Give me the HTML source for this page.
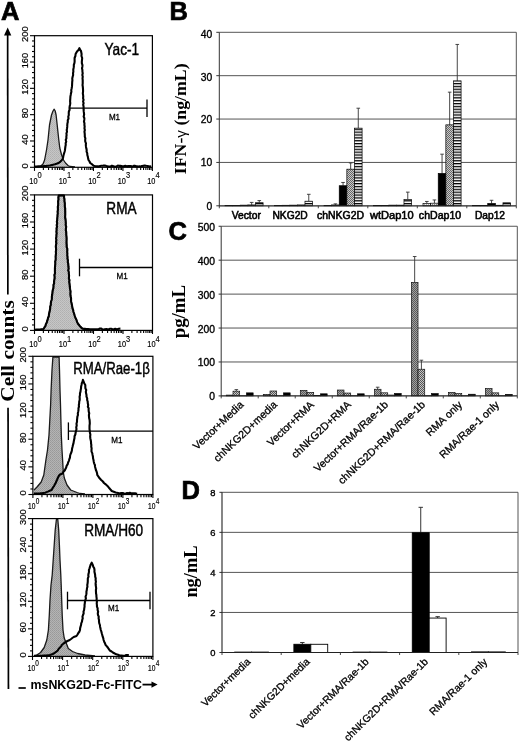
<!DOCTYPE html>
<html><head><meta charset="utf-8"><style>
html,body{margin:0;padding:0;background:#fff;width:520px;height:746px;overflow:hidden;font-family:"Liberation Sans",sans-serif;}
svg{display:block;will-change:transform;}
</style></head><body>
<svg width="520" height="746" viewBox="0 0 520 746">
<rect width="520" height="746" fill="#fff"/>
<defs>
<pattern id="gfill" width="2" height="2" patternUnits="userSpaceOnUse"><rect width="2" height="2" fill="#c6c6c6"/><rect width="1" height="1" fill="#b0b0b0"/><rect x="1" y="1" width="1" height="1" fill="#b6b6b6"/></pattern>
<pattern id="gfill2" width="2" height="2" patternUnits="userSpaceOnUse"><rect width="2" height="2" fill="#b4b4b4"/><rect width="1" height="1" fill="#999"/><rect x="1" y="1" width="1" height="1" fill="#a0a0a0"/></pattern>
<pattern id="chk" width="2" height="2" patternUnits="userSpaceOnUse"><rect width="2" height="2" fill="#cacaca"/><rect width="1" height="1" fill="#666"/><rect x="1" y="1" width="1" height="1" fill="#666"/></pattern>
<pattern id="chkC1" width="2" height="2" patternUnits="userSpaceOnUse"><rect width="2" height="2" fill="#a0a0a0"/><rect width="1" height="1" fill="#5a5a5a"/><rect x="1" y="1" width="1" height="1" fill="#5a5a5a"/></pattern>
<pattern id="chk2" width="2" height="2" patternUnits="userSpaceOnUse"><rect width="2" height="2" fill="#c4c4c4"/><rect width="1" height="1" fill="#555"/><rect x="1" y="1" width="1" height="1" fill="#555"/></pattern>
<pattern id="stripe" width="4" height="2.86" patternUnits="userSpaceOnUse"><rect width="4" height="2.86" fill="#fff"/><rect width="4" height="1.3" fill="#000"/></pattern>
<pattern id="wdot" width="2" height="2" patternUnits="userSpaceOnUse"><rect width="2" height="2" fill="#eee"/><rect width="1" height="1" fill="#aaa"/></pattern>
<pattern id="ldot" width="2" height="2" patternUnits="userSpaceOnUse"><rect width="2" height="2" fill="#ddd"/><rect width="1" height="1" fill="#888"/></pattern>
</defs>
<text x="0.9" y="20" font-family="'Liberation Sans', sans-serif" font-size="25.5" font-weight="bold" text-anchor="start" fill="#000" stroke="#000" stroke-width="0.7">A</text>
<line x1="7.65" y1="34" x2="7.85" y2="294.4" stroke="#000" stroke-width="1.7" />
<line x1="8.05" y1="407.8" x2="8.45" y2="689" stroke="#000" stroke-width="1.7" />
<path d="M7.7 27.6 L4 35.6 L11.3 35.6 Z" fill="#000"/>
<text x="14.1" y="351" font-family="'Liberation Serif', serif" font-size="19.5" font-weight="bold" text-anchor="middle" fill="#000" textLength="101.5" lengthAdjust="spacingAndGlyphs" transform="rotate(-90 14.1 351)" >Cell counts</text>
<path d="M35 167.3 L35 166.8 L40.6 166.3 L43 164 L44.6 160 L46.5 150 L48 140 L49.5 125 L51.5 115 L53 111 L54.2 109.2 L55.2 111 L56.1 115 L57.2 125 L58.8 140 L59.8 148 L61.6 155 L63.5 160 L65.5 163 L68 165.5 L70 166.5 L75 166.9 L75 167.3 Z" fill="url(#gfill)" stroke="none"/>
<path d="M35 166.8 L40.6 166.3 L43 164 L44.6 160 L46.5 150 L48 140 L49.5 125 L51.5 115 L53 111 L54.2 109.2 L55.2 111 L56.1 115 L57.2 125 L58.8 140 L59.8 148 L61.6 155 L63.5 160 L65.5 163 L68 165.5 L70 166.5 L75 166.9" fill="none" stroke="#1a1a1a" stroke-width="1.3" stroke-linejoin="round"/>
<path d="M34.5 166.6 L36.37 166.5 L38.34 166.4 L40 166.3 L42.17 166.2 L44.26 166.1 L46 166 L47.52 165.73 L49.66 165.47 L51 165.2 L53.05 164.75 L55 164.3 L57.17 163.5 L59 162.7 L60.43 161.6 L61.5 160.5 L62.6 159 L63.1 157.5 L63.41 155.67 L63.94 153.83 L64.5 152 L64.95 150.17 L65.16 148.33 L65.4 146.5 L65.75 144.86 L65.65 143.21 L66.23 141.57 L65.74 139.93 L66.41 138.29 L66.34 136.64 L66.6 135 L66.42 133.38 L67.02 131.75 L66.74 130.12 L67.01 128.5 L67.23 126.88 L67.26 125.25 L67.41 123.62 L67.8 122 L67.75 120.25 L68.54 118.5 L68.26 116.75 L68.8 115 L68.74 113.25 L68.85 111.5 L69.61 109.75 L69.5 108 L69.68 106.38 L70.03 104.75 L70.28 103.12 L70.1 101.5 L70.18 99.88 L70.32 98.25 L70.39 96.62 L70.7 95 L70.95 93.38 L71.4 91.75 L71.26 90.12 L71.63 88.5 L71.91 86.88 L72.06 85.25 L72.13 83.62 L72.2 82 L72.41 80.25 L72.27 78.5 L72.64 76.75 L73.15 75 L73.03 73.25 L73.38 71.5 L73.26 69.75 L73.6 68 L73.86 66.4 L73.8 64.8 L74.4 63.2 L74.62 61.6 L74.6 60 L74.6 58 L75.38 56 L75.6 54 L77 51.5 L78.5 50 L79.4 48.1 L80.2 50 L81 51 L81.6 54 L81.45 56 L82.18 58 L82 60 L81.84 61.67 L81.87 63.33 L82.47 65 L82.35 66.67 L81.99 68.33 L82.4 70 L82.43 71.67 L82.73 73.33 L82.32 75 L82.78 76.67 L82.5 78.33 L82.7 80 L82.7 81.67 L82.72 83.33 L82.52 85 L82.8 86.67 L82.94 88.33 L83.05 90 L83.04 91.67 L82.82 93.33 L83.1 95 L83.24 96.62 L83.08 98.25 L83.57 99.88 L83.07 101.5 L83.61 103.12 L83.18 104.75 L83.58 106.38 L83.6 108 L83.58 109.7 L83.73 111.4 L83.97 113.1 L84.13 114.8 L83.65 116.5 L84.35 118.2 L84.27 119.9 L83.96 121.6 L84.46 123.3 L84.4 125 L84.68 126.67 L84.44 128.33 L84.86 130 L84.43 131.67 L84.7 133.33 L84.8 135 L84.79 136.67 L85.36 138.33 L85.16 140 L85.29 141.67 L85.98 143.33 L85.8 145 L85.99 146.67 L86.27 148.33 L86.69 150 L86.58 151.67 L87.27 153.33 L87.3 155 L87.83 156.67 L88.1 158.33 L88.5 160 L89.56 161.5 L90.2 163 L92.21 164.4 L93.7 165.8 L95.07 166 L97 166.2 L98 166.4 L99.11 166.15 L101.27 165.7 L103.13 165.64 L104.76 165.5 L106.49 166.06 L108.58 166.63 L110.43 166.58 L111.79 165.68 L112.86 166.02 L114.2 166.6 L116.28 166.7 L117.88 165.46 L118.99 165.87 L120.42 165.87 L122.46 166.27 L123.9 166.12 L125.88 165.86 L127.09 166.37 L128.45 166.12 L130.61 165.95 L132.37 166.59 L134.13 165.67 L135.95 166.13 L138.06 166.44 L139.38 166.38 L140.85 166.62 L141.91 165.96 L143.3 165.9 L144.47 165.43 L146.23 165.75 L147.65 165.94 L149.76 166.41 L151.18 166.52" fill="none" stroke="#000" stroke-width="2.1" stroke-linejoin="round"/>
<rect x="34.5" y="35.7" width="117.9" height="131.6" fill="none" stroke="#000" stroke-width="1.2"/>
<line x1="30" y1="167.3" x2="34.5" y2="167.3" stroke="#000" stroke-width="1.1" />
<line x1="32" y1="162.04" x2="34.5" y2="162.04" stroke="#000" stroke-width="1.1" />
<line x1="32" y1="156.77" x2="34.5" y2="156.77" stroke="#000" stroke-width="1.1" />
<line x1="32" y1="151.51" x2="34.5" y2="151.51" stroke="#000" stroke-width="1.1" />
<line x1="32" y1="146.24" x2="34.5" y2="146.24" stroke="#000" stroke-width="1.1" />
<line x1="30" y1="140.98" x2="34.5" y2="140.98" stroke="#000" stroke-width="1.1" />
<line x1="32" y1="135.72" x2="34.5" y2="135.72" stroke="#000" stroke-width="1.1" />
<line x1="32" y1="130.45" x2="34.5" y2="130.45" stroke="#000" stroke-width="1.1" />
<line x1="32" y1="125.19" x2="34.5" y2="125.19" stroke="#000" stroke-width="1.1" />
<line x1="32" y1="119.92" x2="34.5" y2="119.92" stroke="#000" stroke-width="1.1" />
<line x1="30" y1="114.66" x2="34.5" y2="114.66" stroke="#000" stroke-width="1.1" />
<line x1="32" y1="109.4" x2="34.5" y2="109.4" stroke="#000" stroke-width="1.1" />
<line x1="32" y1="104.13" x2="34.5" y2="104.13" stroke="#000" stroke-width="1.1" />
<line x1="32" y1="98.87" x2="34.5" y2="98.87" stroke="#000" stroke-width="1.1" />
<line x1="32" y1="93.6" x2="34.5" y2="93.6" stroke="#000" stroke-width="1.1" />
<line x1="30" y1="88.34" x2="34.5" y2="88.34" stroke="#000" stroke-width="1.1" />
<line x1="32" y1="83.08" x2="34.5" y2="83.08" stroke="#000" stroke-width="1.1" />
<line x1="32" y1="77.81" x2="34.5" y2="77.81" stroke="#000" stroke-width="1.1" />
<line x1="32" y1="72.55" x2="34.5" y2="72.55" stroke="#000" stroke-width="1.1" />
<line x1="32" y1="67.28" x2="34.5" y2="67.28" stroke="#000" stroke-width="1.1" />
<line x1="30" y1="62.02" x2="34.5" y2="62.02" stroke="#000" stroke-width="1.1" />
<line x1="32" y1="56.76" x2="34.5" y2="56.76" stroke="#000" stroke-width="1.1" />
<line x1="32" y1="51.49" x2="34.5" y2="51.49" stroke="#000" stroke-width="1.1" />
<line x1="32" y1="46.23" x2="34.5" y2="46.23" stroke="#000" stroke-width="1.1" />
<line x1="32" y1="40.96" x2="34.5" y2="40.96" stroke="#000" stroke-width="1.1" />
<line x1="30" y1="35.7" x2="34.5" y2="35.7" stroke="#000" stroke-width="1.1" />
<text x="27.9" y="165.8" font-family="'Liberation Sans', sans-serif" font-size="9.6" font-weight="normal" text-anchor="middle" fill="#000" textLength="5.2" lengthAdjust="spacingAndGlyphs" transform="rotate(-90 27.9 165.8)" stroke="#000" stroke-width="0.2">0</text>
<text x="27.9" y="139.48" font-family="'Liberation Sans', sans-serif" font-size="9.6" font-weight="normal" text-anchor="middle" fill="#000" textLength="10.4" lengthAdjust="spacingAndGlyphs" transform="rotate(-90 27.9 139.48)" stroke="#000" stroke-width="0.2">40</text>
<text x="27.9" y="113.16" font-family="'Liberation Sans', sans-serif" font-size="9.6" font-weight="normal" text-anchor="middle" fill="#000" textLength="10.4" lengthAdjust="spacingAndGlyphs" transform="rotate(-90 27.9 113.16)" stroke="#000" stroke-width="0.2">80</text>
<text x="27.9" y="86.84" font-family="'Liberation Sans', sans-serif" font-size="9.6" font-weight="normal" text-anchor="middle" fill="#000" textLength="15.6" lengthAdjust="spacingAndGlyphs" transform="rotate(-90 27.9 86.84)" stroke="#000" stroke-width="0.2">120</text>
<text x="27.9" y="60.52" font-family="'Liberation Sans', sans-serif" font-size="9.6" font-weight="normal" text-anchor="middle" fill="#000" textLength="15.6" lengthAdjust="spacingAndGlyphs" transform="rotate(-90 27.9 60.52)" stroke="#000" stroke-width="0.2">160</text>
<text x="27.9" y="34.2" font-family="'Liberation Sans', sans-serif" font-size="9.6" font-weight="normal" text-anchor="middle" fill="#000" textLength="15.6" lengthAdjust="spacingAndGlyphs" transform="rotate(-90 27.9 34.2)" stroke="#000" stroke-width="0.2">200</text>
<line x1="34.5" y1="167.3" x2="34.5" y2="170.9" stroke="#000" stroke-width="1.1" />
<line x1="43.37" y1="167.3" x2="43.37" y2="170" stroke="#000" stroke-width="1.1" />
<line x1="48.56" y1="167.3" x2="48.56" y2="170" stroke="#000" stroke-width="1.1" />
<line x1="52.25" y1="167.3" x2="52.25" y2="170" stroke="#000" stroke-width="1.1" />
<line x1="55.1" y1="167.3" x2="55.1" y2="170" stroke="#000" stroke-width="1.1" />
<line x1="57.44" y1="167.3" x2="57.44" y2="170" stroke="#000" stroke-width="1.1" />
<line x1="59.41" y1="167.3" x2="59.41" y2="170" stroke="#000" stroke-width="1.1" />
<line x1="61.12" y1="167.3" x2="61.12" y2="170" stroke="#000" stroke-width="1.1" />
<line x1="62.63" y1="167.3" x2="62.63" y2="170" stroke="#000" stroke-width="1.1" />
<line x1="63.98" y1="167.3" x2="63.98" y2="170.9" stroke="#000" stroke-width="1.1" />
<line x1="72.85" y1="167.3" x2="72.85" y2="170" stroke="#000" stroke-width="1.1" />
<line x1="78.04" y1="167.3" x2="78.04" y2="170" stroke="#000" stroke-width="1.1" />
<line x1="81.72" y1="167.3" x2="81.72" y2="170" stroke="#000" stroke-width="1.1" />
<line x1="84.58" y1="167.3" x2="84.58" y2="170" stroke="#000" stroke-width="1.1" />
<line x1="86.91" y1="167.3" x2="86.91" y2="170" stroke="#000" stroke-width="1.1" />
<line x1="88.88" y1="167.3" x2="88.88" y2="170" stroke="#000" stroke-width="1.1" />
<line x1="90.59" y1="167.3" x2="90.59" y2="170" stroke="#000" stroke-width="1.1" />
<line x1="92.1" y1="167.3" x2="92.1" y2="170" stroke="#000" stroke-width="1.1" />
<line x1="93.45" y1="167.3" x2="93.45" y2="170.9" stroke="#000" stroke-width="1.1" />
<line x1="102.32" y1="167.3" x2="102.32" y2="170" stroke="#000" stroke-width="1.1" />
<line x1="107.51" y1="167.3" x2="107.51" y2="170" stroke="#000" stroke-width="1.1" />
<line x1="111.2" y1="167.3" x2="111.2" y2="170" stroke="#000" stroke-width="1.1" />
<line x1="114.05" y1="167.3" x2="114.05" y2="170" stroke="#000" stroke-width="1.1" />
<line x1="116.39" y1="167.3" x2="116.39" y2="170" stroke="#000" stroke-width="1.1" />
<line x1="118.36" y1="167.3" x2="118.36" y2="170" stroke="#000" stroke-width="1.1" />
<line x1="120.07" y1="167.3" x2="120.07" y2="170" stroke="#000" stroke-width="1.1" />
<line x1="121.58" y1="167.3" x2="121.58" y2="170" stroke="#000" stroke-width="1.1" />
<line x1="122.93" y1="167.3" x2="122.93" y2="170.9" stroke="#000" stroke-width="1.1" />
<line x1="131.8" y1="167.3" x2="131.8" y2="170" stroke="#000" stroke-width="1.1" />
<line x1="136.99" y1="167.3" x2="136.99" y2="170" stroke="#000" stroke-width="1.1" />
<line x1="140.67" y1="167.3" x2="140.67" y2="170" stroke="#000" stroke-width="1.1" />
<line x1="143.53" y1="167.3" x2="143.53" y2="170" stroke="#000" stroke-width="1.1" />
<line x1="145.86" y1="167.3" x2="145.86" y2="170" stroke="#000" stroke-width="1.1" />
<line x1="147.83" y1="167.3" x2="147.83" y2="170" stroke="#000" stroke-width="1.1" />
<line x1="149.54" y1="167.3" x2="149.54" y2="170" stroke="#000" stroke-width="1.1" />
<line x1="151.05" y1="167.3" x2="151.05" y2="170" stroke="#000" stroke-width="1.1" />
<line x1="152.4" y1="167.3" x2="152.4" y2="170.9" stroke="#000" stroke-width="1.1" />
<text x="37.5" y="183.8" font-family="'Liberation Sans', sans-serif" font-size="9.8" font-weight="normal" text-anchor="end" fill="#000" textLength="8.2" lengthAdjust="spacingAndGlyphs" stroke="#000" stroke-width="0.2">10</text>
<text x="37.5" y="178.4" font-family="'Liberation Sans', sans-serif" font-size="9" font-weight="normal" text-anchor="start" fill="#000" textLength="4.2" lengthAdjust="spacingAndGlyphs" stroke="#000" stroke-width="0.15">0</text>
<text x="66.97" y="183.8" font-family="'Liberation Sans', sans-serif" font-size="9.8" font-weight="normal" text-anchor="end" fill="#000" textLength="8.2" lengthAdjust="spacingAndGlyphs" stroke="#000" stroke-width="0.2">10</text>
<text x="66.97" y="178.4" font-family="'Liberation Sans', sans-serif" font-size="9" font-weight="normal" text-anchor="start" fill="#000" textLength="4.2" lengthAdjust="spacingAndGlyphs" stroke="#000" stroke-width="0.15">1</text>
<text x="96.45" y="183.8" font-family="'Liberation Sans', sans-serif" font-size="9.8" font-weight="normal" text-anchor="end" fill="#000" textLength="8.2" lengthAdjust="spacingAndGlyphs" stroke="#000" stroke-width="0.2">10</text>
<text x="96.45" y="178.4" font-family="'Liberation Sans', sans-serif" font-size="9" font-weight="normal" text-anchor="start" fill="#000" textLength="4.2" lengthAdjust="spacingAndGlyphs" stroke="#000" stroke-width="0.15">2</text>
<text x="125.93" y="183.8" font-family="'Liberation Sans', sans-serif" font-size="9.8" font-weight="normal" text-anchor="end" fill="#000" textLength="8.2" lengthAdjust="spacingAndGlyphs" stroke="#000" stroke-width="0.2">10</text>
<text x="125.93" y="178.4" font-family="'Liberation Sans', sans-serif" font-size="9" font-weight="normal" text-anchor="start" fill="#000" textLength="4.2" lengthAdjust="spacingAndGlyphs" stroke="#000" stroke-width="0.15">3</text>
<text x="155.4" y="183.8" font-family="'Liberation Sans', sans-serif" font-size="9.8" font-weight="normal" text-anchor="end" fill="#000" textLength="8.2" lengthAdjust="spacingAndGlyphs" stroke="#000" stroke-width="0.2">10</text>
<text x="155.4" y="178.4" font-family="'Liberation Sans', sans-serif" font-size="9" font-weight="normal" text-anchor="start" fill="#000" textLength="4.2" lengthAdjust="spacingAndGlyphs" stroke="#000" stroke-width="0.15">4</text>
<text x="104.5" y="55.3" font-family="'Liberation Sans', sans-serif" font-size="16.5" font-weight="normal" text-anchor="start" fill="#000" textLength="34.7" lengthAdjust="spacingAndGlyphs" stroke="#000" stroke-width="0.45">Yac-1</text>
<line x1="69.5" y1="108.2" x2="147" y2="108.2" stroke="#000" stroke-width="1.3" />
<line x1="147" y1="99.4" x2="147" y2="117" stroke="#000" stroke-width="1.3" />
<text x="108.9" y="119.8" font-family="'Liberation Sans', sans-serif" font-size="9.8" font-weight="normal" text-anchor="start" fill="#000" textLength="11.2" lengthAdjust="spacingAndGlyphs" stroke="#000" stroke-width="0.3">M1</text>
<path d="M35 330.4 L35 329.8 L40 329.6 L43.5 329.1 L45.5 325.8 L48.9 315 L51.6 300 L54.3 280 L55.8 255 L56.4 235 L57.2 220 L58.2 205 L58.7 195.5 L64 195.5 L64.8 205 L65.6 220 L66.3 235 L67.2 252 L69 277 L71.5 303 L73.5 312 L75.5 318 L78 323.8 L80.5 326.8 L83 328.8 L90 329.7 L90 330.4 Z" fill="url(#gfill)" stroke="none"/>
<path d="M35 329.8 L40 329.6 L43.5 329.1 L45.5 325.8 L48.9 315 L51.6 300 L54.3 280 L55.8 255 L56.4 235 L57.2 220 L58.2 205 L58.7 195.5 L64 195.5 L64.8 205 L65.6 220 L66.3 235 L67.2 252 L69 277 L71.5 303 L73.5 312 L75.5 318 L78 323.8 L80.5 326.8 L83 328.8 L90 329.7" fill="none" stroke="#1a1a1a" stroke-width="1.3" stroke-linejoin="round"/>
<path d="M34.5 329.7 L36.55 329.63 L37.86 329.57 L40 329.5 L41.51 329.3 L43.5 329.1 L44.42 327.45 L45.5 325.8 L45.81 324.26 L46.7 322.71 L47.12 321.17 L47.72 319.63 L47.96 318.09 L48.76 316.54 L48.9 315 L49.11 313.33 L49.6 311.67 L49.89 310 L50.23 308.33 L50.14 306.67 L50.79 305 L50.8 303.33 L51.02 301.67 L51.6 300 L51.87 298.33 L51.8 296.67 L52.17 295 L52.34 293.33 L52.44 291.67 L52.75 290 L53.36 288.33 L53.55 286.67 L53.39 285 L54.15 283.33 L54.05 281.67 L54.3 280 L54.7 278.33 L54.64 276.67 L54.31 275 L55.04 273.33 L54.91 271.67 L54.92 270 L54.92 268.33 L55.04 266.67 L55.19 265 L55.34 263.33 L55.16 261.67 L55.65 260 L55.72 258.33 L55.56 256.67 L55.8 255 L56 253.33 L55.8 251.67 L56.13 250 L56.04 248.33 L55.8 246.67 L55.98 245 L56.43 243.33 L56.05 241.67 L56.45 240 L56.04 238.33 L56.44 236.67 L56.4 235 L56.72 233.33 L56.34 231.67 L56.59 230 L56.47 228.33 L57.05 226.67 L56.65 225 L57.2 223.33 L56.83 221.67 L57.2 220 L57.24 218.33 L57.48 216.67 L57.48 215 L57.78 213.33 L57.52 211.67 L57.91 210 L57.88 208.33 L57.79 206.67 L58.2 205 L58.18 203.1 L58.08 201.2 L58.5 199.3 L58.26 197.4 L58.7 195.5 L60.37 195.5 L61.96 195.5 L64 195.5 L64.1 197.4 L64.52 199.3 L64.45 201.2 L64.83 203.1 L64.8 205 L64.82 206.67 L65.2 208.33 L65.2 210 L65.27 211.67 L65.25 213.33 L65.27 215 L65.09 216.67 L65.21 218.33 L65.6 220 L65.7 221.67 L65.82 223.33 L65.64 225 L66.2 226.67 L65.97 228.33 L65.76 230 L66.2 231.67 L66.29 233.33 L66.3 235 L66.54 236.7 L66.65 238.4 L66.57 240.1 L66.46 241.8 L66.47 243.5 L66.64 245.2 L66.6 246.9 L67.33 248.6 L67.36 250.3 L67.2 252 L67.42 253.67 L67.24 255.33 L67.54 257 L67.38 258.67 L67.96 260.33 L67.73 262 L68.25 263.67 L68.39 265.33 L68.52 267 L68.74 268.67 L68.18 270.33 L68.81 272 L68.8 273.67 L69.06 275.33 L69 277 L68.87 278.62 L69.56 280.25 L69.15 281.88 L69.42 283.5 L69.65 285.12 L69.77 286.75 L70 288.38 L70.29 290 L70.64 291.62 L70.32 293.25 L70.38 294.88 L70.61 296.5 L71.06 298.12 L71.05 299.75 L71.1 301.38 L71.5 303 L71.88 304.8 L72.23 306.6 L72.46 308.4 L73.21 310.2 L73.5 312 L74.24 314 L74.75 316 L75.5 318 L76.55 319.93 L77 321.87 L78 323.8 L79.29 325.3 L80.5 326.8 L81.43 327.8 L83 328.8 L84.78 328.9 L86.64 329 L88.17 329.1 L90 329.2 L91.65 329.24 L93.25 329.28 L95.2 329.32 L97.15 329.36 L98.6 329.4 L99.6 328.56 L101.34 328.58 L102.82 329.78 L104.56 329.36 L106.62 328.98 L108.61 329.64 L109.72 328.75 L111.01 328.69 L112.04 329.05 L113.11 329.72 L115.2 328.83 L117.09 329.5 L118.78 328.68 L120.41 328.63" fill="none" stroke="#000" stroke-width="2.1" stroke-linejoin="round"/>
<rect x="34.5" y="194.9" width="118" height="135.5" fill="none" stroke="#000" stroke-width="1.2"/>
<line x1="30" y1="330.4" x2="34.5" y2="330.4" stroke="#000" stroke-width="1.1" />
<line x1="32" y1="324.98" x2="34.5" y2="324.98" stroke="#000" stroke-width="1.1" />
<line x1="32" y1="319.56" x2="34.5" y2="319.56" stroke="#000" stroke-width="1.1" />
<line x1="32" y1="314.14" x2="34.5" y2="314.14" stroke="#000" stroke-width="1.1" />
<line x1="32" y1="308.72" x2="34.5" y2="308.72" stroke="#000" stroke-width="1.1" />
<line x1="30" y1="303.3" x2="34.5" y2="303.3" stroke="#000" stroke-width="1.1" />
<line x1="32" y1="297.88" x2="34.5" y2="297.88" stroke="#000" stroke-width="1.1" />
<line x1="32" y1="292.46" x2="34.5" y2="292.46" stroke="#000" stroke-width="1.1" />
<line x1="32" y1="287.04" x2="34.5" y2="287.04" stroke="#000" stroke-width="1.1" />
<line x1="32" y1="281.62" x2="34.5" y2="281.62" stroke="#000" stroke-width="1.1" />
<line x1="30" y1="276.2" x2="34.5" y2="276.2" stroke="#000" stroke-width="1.1" />
<line x1="32" y1="270.78" x2="34.5" y2="270.78" stroke="#000" stroke-width="1.1" />
<line x1="32" y1="265.36" x2="34.5" y2="265.36" stroke="#000" stroke-width="1.1" />
<line x1="32" y1="259.94" x2="34.5" y2="259.94" stroke="#000" stroke-width="1.1" />
<line x1="32" y1="254.52" x2="34.5" y2="254.52" stroke="#000" stroke-width="1.1" />
<line x1="30" y1="249.1" x2="34.5" y2="249.1" stroke="#000" stroke-width="1.1" />
<line x1="32" y1="243.68" x2="34.5" y2="243.68" stroke="#000" stroke-width="1.1" />
<line x1="32" y1="238.26" x2="34.5" y2="238.26" stroke="#000" stroke-width="1.1" />
<line x1="32" y1="232.84" x2="34.5" y2="232.84" stroke="#000" stroke-width="1.1" />
<line x1="32" y1="227.42" x2="34.5" y2="227.42" stroke="#000" stroke-width="1.1" />
<line x1="30" y1="222" x2="34.5" y2="222" stroke="#000" stroke-width="1.1" />
<line x1="32" y1="216.58" x2="34.5" y2="216.58" stroke="#000" stroke-width="1.1" />
<line x1="32" y1="211.16" x2="34.5" y2="211.16" stroke="#000" stroke-width="1.1" />
<line x1="32" y1="205.74" x2="34.5" y2="205.74" stroke="#000" stroke-width="1.1" />
<line x1="32" y1="200.32" x2="34.5" y2="200.32" stroke="#000" stroke-width="1.1" />
<line x1="30" y1="194.9" x2="34.5" y2="194.9" stroke="#000" stroke-width="1.1" />
<text x="27.9" y="328.9" font-family="'Liberation Sans', sans-serif" font-size="9.6" font-weight="normal" text-anchor="middle" fill="#000" textLength="5.2" lengthAdjust="spacingAndGlyphs" transform="rotate(-90 27.9 328.9)" stroke="#000" stroke-width="0.2">0</text>
<text x="27.9" y="301.8" font-family="'Liberation Sans', sans-serif" font-size="9.6" font-weight="normal" text-anchor="middle" fill="#000" textLength="10.4" lengthAdjust="spacingAndGlyphs" transform="rotate(-90 27.9 301.8)" stroke="#000" stroke-width="0.2">40</text>
<text x="27.9" y="274.7" font-family="'Liberation Sans', sans-serif" font-size="9.6" font-weight="normal" text-anchor="middle" fill="#000" textLength="10.4" lengthAdjust="spacingAndGlyphs" transform="rotate(-90 27.9 274.7)" stroke="#000" stroke-width="0.2">80</text>
<text x="27.9" y="247.6" font-family="'Liberation Sans', sans-serif" font-size="9.6" font-weight="normal" text-anchor="middle" fill="#000" textLength="15.6" lengthAdjust="spacingAndGlyphs" transform="rotate(-90 27.9 247.6)" stroke="#000" stroke-width="0.2">120</text>
<text x="27.9" y="220.5" font-family="'Liberation Sans', sans-serif" font-size="9.6" font-weight="normal" text-anchor="middle" fill="#000" textLength="15.6" lengthAdjust="spacingAndGlyphs" transform="rotate(-90 27.9 220.5)" stroke="#000" stroke-width="0.2">160</text>
<text x="27.9" y="193.4" font-family="'Liberation Sans', sans-serif" font-size="9.6" font-weight="normal" text-anchor="middle" fill="#000" textLength="15.6" lengthAdjust="spacingAndGlyphs" transform="rotate(-90 27.9 193.4)" stroke="#000" stroke-width="0.2">200</text>
<line x1="34.5" y1="330.4" x2="34.5" y2="334" stroke="#000" stroke-width="1.1" />
<line x1="43.38" y1="330.4" x2="43.38" y2="333.1" stroke="#000" stroke-width="1.1" />
<line x1="48.58" y1="330.4" x2="48.58" y2="333.1" stroke="#000" stroke-width="1.1" />
<line x1="52.26" y1="330.4" x2="52.26" y2="333.1" stroke="#000" stroke-width="1.1" />
<line x1="55.12" y1="330.4" x2="55.12" y2="333.1" stroke="#000" stroke-width="1.1" />
<line x1="57.46" y1="330.4" x2="57.46" y2="333.1" stroke="#000" stroke-width="1.1" />
<line x1="59.43" y1="330.4" x2="59.43" y2="333.1" stroke="#000" stroke-width="1.1" />
<line x1="61.14" y1="330.4" x2="61.14" y2="333.1" stroke="#000" stroke-width="1.1" />
<line x1="62.65" y1="330.4" x2="62.65" y2="333.1" stroke="#000" stroke-width="1.1" />
<line x1="64" y1="330.4" x2="64" y2="334" stroke="#000" stroke-width="1.1" />
<line x1="72.88" y1="330.4" x2="72.88" y2="333.1" stroke="#000" stroke-width="1.1" />
<line x1="78.08" y1="330.4" x2="78.08" y2="333.1" stroke="#000" stroke-width="1.1" />
<line x1="81.76" y1="330.4" x2="81.76" y2="333.1" stroke="#000" stroke-width="1.1" />
<line x1="84.62" y1="330.4" x2="84.62" y2="333.1" stroke="#000" stroke-width="1.1" />
<line x1="86.96" y1="330.4" x2="86.96" y2="333.1" stroke="#000" stroke-width="1.1" />
<line x1="88.93" y1="330.4" x2="88.93" y2="333.1" stroke="#000" stroke-width="1.1" />
<line x1="90.64" y1="330.4" x2="90.64" y2="333.1" stroke="#000" stroke-width="1.1" />
<line x1="92.15" y1="330.4" x2="92.15" y2="333.1" stroke="#000" stroke-width="1.1" />
<line x1="93.5" y1="330.4" x2="93.5" y2="334" stroke="#000" stroke-width="1.1" />
<line x1="102.38" y1="330.4" x2="102.38" y2="333.1" stroke="#000" stroke-width="1.1" />
<line x1="107.58" y1="330.4" x2="107.58" y2="333.1" stroke="#000" stroke-width="1.1" />
<line x1="111.26" y1="330.4" x2="111.26" y2="333.1" stroke="#000" stroke-width="1.1" />
<line x1="114.12" y1="330.4" x2="114.12" y2="333.1" stroke="#000" stroke-width="1.1" />
<line x1="116.46" y1="330.4" x2="116.46" y2="333.1" stroke="#000" stroke-width="1.1" />
<line x1="118.43" y1="330.4" x2="118.43" y2="333.1" stroke="#000" stroke-width="1.1" />
<line x1="120.14" y1="330.4" x2="120.14" y2="333.1" stroke="#000" stroke-width="1.1" />
<line x1="121.65" y1="330.4" x2="121.65" y2="333.1" stroke="#000" stroke-width="1.1" />
<line x1="123" y1="330.4" x2="123" y2="334" stroke="#000" stroke-width="1.1" />
<line x1="131.88" y1="330.4" x2="131.88" y2="333.1" stroke="#000" stroke-width="1.1" />
<line x1="137.08" y1="330.4" x2="137.08" y2="333.1" stroke="#000" stroke-width="1.1" />
<line x1="140.76" y1="330.4" x2="140.76" y2="333.1" stroke="#000" stroke-width="1.1" />
<line x1="143.62" y1="330.4" x2="143.62" y2="333.1" stroke="#000" stroke-width="1.1" />
<line x1="145.96" y1="330.4" x2="145.96" y2="333.1" stroke="#000" stroke-width="1.1" />
<line x1="147.93" y1="330.4" x2="147.93" y2="333.1" stroke="#000" stroke-width="1.1" />
<line x1="149.64" y1="330.4" x2="149.64" y2="333.1" stroke="#000" stroke-width="1.1" />
<line x1="151.15" y1="330.4" x2="151.15" y2="333.1" stroke="#000" stroke-width="1.1" />
<line x1="152.5" y1="330.4" x2="152.5" y2="334" stroke="#000" stroke-width="1.1" />
<text x="37.5" y="346.9" font-family="'Liberation Sans', sans-serif" font-size="9.8" font-weight="normal" text-anchor="end" fill="#000" textLength="8.2" lengthAdjust="spacingAndGlyphs" stroke="#000" stroke-width="0.2">10</text>
<text x="37.5" y="341.5" font-family="'Liberation Sans', sans-serif" font-size="9" font-weight="normal" text-anchor="start" fill="#000" textLength="4.2" lengthAdjust="spacingAndGlyphs" stroke="#000" stroke-width="0.15">0</text>
<text x="67" y="346.9" font-family="'Liberation Sans', sans-serif" font-size="9.8" font-weight="normal" text-anchor="end" fill="#000" textLength="8.2" lengthAdjust="spacingAndGlyphs" stroke="#000" stroke-width="0.2">10</text>
<text x="67" y="341.5" font-family="'Liberation Sans', sans-serif" font-size="9" font-weight="normal" text-anchor="start" fill="#000" textLength="4.2" lengthAdjust="spacingAndGlyphs" stroke="#000" stroke-width="0.15">1</text>
<text x="96.5" y="346.9" font-family="'Liberation Sans', sans-serif" font-size="9.8" font-weight="normal" text-anchor="end" fill="#000" textLength="8.2" lengthAdjust="spacingAndGlyphs" stroke="#000" stroke-width="0.2">10</text>
<text x="96.5" y="341.5" font-family="'Liberation Sans', sans-serif" font-size="9" font-weight="normal" text-anchor="start" fill="#000" textLength="4.2" lengthAdjust="spacingAndGlyphs" stroke="#000" stroke-width="0.15">2</text>
<text x="126" y="346.9" font-family="'Liberation Sans', sans-serif" font-size="9.8" font-weight="normal" text-anchor="end" fill="#000" textLength="8.2" lengthAdjust="spacingAndGlyphs" stroke="#000" stroke-width="0.2">10</text>
<text x="126" y="341.5" font-family="'Liberation Sans', sans-serif" font-size="9" font-weight="normal" text-anchor="start" fill="#000" textLength="4.2" lengthAdjust="spacingAndGlyphs" stroke="#000" stroke-width="0.15">3</text>
<text x="155.5" y="346.9" font-family="'Liberation Sans', sans-serif" font-size="9.8" font-weight="normal" text-anchor="end" fill="#000" textLength="8.2" lengthAdjust="spacingAndGlyphs" stroke="#000" stroke-width="0.2">10</text>
<text x="155.5" y="341.5" font-family="'Liberation Sans', sans-serif" font-size="9" font-weight="normal" text-anchor="start" fill="#000" textLength="4.2" lengthAdjust="spacingAndGlyphs" stroke="#000" stroke-width="0.15">4</text>
<text x="106.3" y="214" font-family="'Liberation Sans', sans-serif" font-size="16.5" font-weight="normal" text-anchor="start" fill="#000" textLength="30.3" lengthAdjust="spacingAndGlyphs" stroke="#000" stroke-width="0.45">RMA</text>
<line x1="79.5" y1="267.5" x2="152.5" y2="267.5" stroke="#000" stroke-width="1.3" />
<line x1="79.5" y1="258.7" x2="79.5" y2="276.3" stroke="#000" stroke-width="1.3" />
<text x="116.5" y="279.1" font-family="'Liberation Sans', sans-serif" font-size="9.8" font-weight="normal" text-anchor="start" fill="#000" textLength="11.2" lengthAdjust="spacingAndGlyphs" stroke="#000" stroke-width="0.3">M1</text>
<path d="M33.4 494.5 L34 490 L37 487 L41.2 482 L43.8 475 L45.9 460 L47.5 450 L49 435 L49.8 420 L50.6 405 L51.1 390 L52 370 L52.9 357 L59.1 357 L59.5 370 L60 390 L60.5 405 L60.9 420 L61.3 435 L62 450 L62.6 460 L63.3 472 L64.3 478 L67 485 L70.7 490 L77 492.5 L80 493.5 L85 494 L85 494.5 Z" fill="url(#gfill2)" stroke="none"/>
<path d="M34 490 L37 487 L41.2 482 L43.8 475 L45.9 460 L47.5 450 L49 435 L49.8 420 L50.6 405 L51.1 390 L52 370 L52.9 357 L59.1 357 L59.5 370 L60 390 L60.5 405 L60.9 420 L61.3 435 L62 450 L62.6 460 L63.3 472 L64.3 478 L67 485 L70.7 490 L77 492.5 L80 493.5 L85 494" fill="none" stroke="#1a1a1a" stroke-width="1.3" stroke-linejoin="round"/>
<path d="M34 493.6 L36.1 493.53 L37.98 493.47 L40 493.4 L41.49 493.2 L43.29 493 L45 492.8 L46.61 492.1 L48.34 491.4 L49.73 490.7 L51.6 490 L52.31 488.6 L53.19 487.2 L54.19 485.8 L54.81 484.4 L55.7 483 L56.37 481.25 L57.18 479.5 L57.88 477.75 L58.8 476 L60 474.5 L62.5 473.5 L63.26 472 L64.7 470.5 L65.42 469 L66.2 467.5 L66.6 465.83 L67.69 464.17 L68.09 462.5 L68.89 460.83 L69.34 459.17 L70 457.5 L70.07 455.75 L70.6 454 L71.39 452.25 L71.89 450.5 L72.05 448.75 L72.5 447 L72.89 445.2 L73.46 443.4 L73.74 441.6 L74.1 439.8 L74.5 438 L74.54 436.25 L75.34 434.5 L75.6 432.75 L76 431 L76.49 429.17 L76.24 427.33 L76.72 425.5 L76.47 423.67 L77 421.83 L77 420 L77.22 418.33 L77.38 416.67 L77.97 415 L77.81 413.33 L78.2 411.67 L78.5 410 L78.47 408.33 L78.96 406.67 L78.84 405 L79.15 403.33 L79.21 401.67 L79.7 400 L79.71 398.33 L79.58 396.67 L80 395 L79.97 393.33 L80.49 391.67 L80.68 390 L81.01 388.33 L81.09 386.67 L81.5 385 L81.8 383.27 L82.61 381.53 L82.9 379.8 L83.62 381.53 L84.22 383.27 L85.3 385 L85.3 386.67 L85.42 388.33 L86.22 390 L85.83 391.67 L86.07 393.33 L86.5 395 L86.49 396.67 L87.2 398.33 L87.15 400 L87.72 401.67 L87.78 403.33 L88.2 405 L87.85 406.67 L88.67 408.33 L88.6 410 L88.74 411.67 L89.26 413.33 L88.89 415 L89.01 416.67 L89.17 418.33 L89.6 420 L89.72 421.83 L89.79 423.67 L89.53 425.5 L89.51 427.33 L89.51 429.17 L89.8 431 L89.92 432.8 L90.36 434.6 L90.16 436.4 L90.3 438.2 L90.7 440 L91.02 441.67 L91.05 443.33 L91.34 445 L91.25 446.67 L91.62 448.33 L91.5 450 L91.54 451.67 L92.32 453.33 L92.58 455 L92.96 456.67 L93.05 458.33 L93.5 460 L93.76 461.67 L94.13 463.33 L94.9 465 L95.02 466.67 L95.47 468.33 L95.9 470 L96.62 471.67 L97.08 473.33 L97.3 475 L98.47 476.67 L99.62 478.33 L101.2 480 L102.87 481.5 L104 483 L105.7 484.33 L107.2 485.67 L108.4 487 L109.38 488.33 L110.65 489.67 L111.7 491 L113.76 491.75 L115.6 492.5 L118.07 492.95 L120 493.4 L121 493.09 L122.83 493.07 L124.89 493.88 L127.06 493.06 L128.39 493.54 L129.86 492.78 L131.1 493.38 L132.58 493.2 L134.13 493.38 L135.68 493.42 L137.13 493.7" fill="none" stroke="#000" stroke-width="2.1" stroke-linejoin="round"/>
<rect x="32.9" y="356.3" width="120" height="138.2" fill="none" stroke="#000" stroke-width="1.2"/>
<line x1="28.4" y1="494.5" x2="32.9" y2="494.5" stroke="#000" stroke-width="1.1" />
<line x1="30.4" y1="488.97" x2="32.9" y2="488.97" stroke="#000" stroke-width="1.1" />
<line x1="30.4" y1="483.44" x2="32.9" y2="483.44" stroke="#000" stroke-width="1.1" />
<line x1="30.4" y1="477.92" x2="32.9" y2="477.92" stroke="#000" stroke-width="1.1" />
<line x1="30.4" y1="472.39" x2="32.9" y2="472.39" stroke="#000" stroke-width="1.1" />
<line x1="28.4" y1="466.86" x2="32.9" y2="466.86" stroke="#000" stroke-width="1.1" />
<line x1="30.4" y1="461.33" x2="32.9" y2="461.33" stroke="#000" stroke-width="1.1" />
<line x1="30.4" y1="455.8" x2="32.9" y2="455.8" stroke="#000" stroke-width="1.1" />
<line x1="30.4" y1="450.28" x2="32.9" y2="450.28" stroke="#000" stroke-width="1.1" />
<line x1="30.4" y1="444.75" x2="32.9" y2="444.75" stroke="#000" stroke-width="1.1" />
<line x1="28.4" y1="439.22" x2="32.9" y2="439.22" stroke="#000" stroke-width="1.1" />
<line x1="30.4" y1="433.69" x2="32.9" y2="433.69" stroke="#000" stroke-width="1.1" />
<line x1="30.4" y1="428.16" x2="32.9" y2="428.16" stroke="#000" stroke-width="1.1" />
<line x1="30.4" y1="422.64" x2="32.9" y2="422.64" stroke="#000" stroke-width="1.1" />
<line x1="30.4" y1="417.11" x2="32.9" y2="417.11" stroke="#000" stroke-width="1.1" />
<line x1="28.4" y1="411.58" x2="32.9" y2="411.58" stroke="#000" stroke-width="1.1" />
<line x1="30.4" y1="406.05" x2="32.9" y2="406.05" stroke="#000" stroke-width="1.1" />
<line x1="30.4" y1="400.52" x2="32.9" y2="400.52" stroke="#000" stroke-width="1.1" />
<line x1="30.4" y1="395" x2="32.9" y2="395" stroke="#000" stroke-width="1.1" />
<line x1="30.4" y1="389.47" x2="32.9" y2="389.47" stroke="#000" stroke-width="1.1" />
<line x1="28.4" y1="383.94" x2="32.9" y2="383.94" stroke="#000" stroke-width="1.1" />
<line x1="30.4" y1="378.41" x2="32.9" y2="378.41" stroke="#000" stroke-width="1.1" />
<line x1="30.4" y1="372.88" x2="32.9" y2="372.88" stroke="#000" stroke-width="1.1" />
<line x1="30.4" y1="367.36" x2="32.9" y2="367.36" stroke="#000" stroke-width="1.1" />
<line x1="30.4" y1="361.83" x2="32.9" y2="361.83" stroke="#000" stroke-width="1.1" />
<line x1="28.4" y1="356.3" x2="32.9" y2="356.3" stroke="#000" stroke-width="1.1" />
<text x="26.3" y="493" font-family="'Liberation Sans', sans-serif" font-size="9.6" font-weight="normal" text-anchor="middle" fill="#000" textLength="5.2" lengthAdjust="spacingAndGlyphs" transform="rotate(-90 26.3 493)" stroke="#000" stroke-width="0.2">0</text>
<text x="26.3" y="465.36" font-family="'Liberation Sans', sans-serif" font-size="9.6" font-weight="normal" text-anchor="middle" fill="#000" textLength="10.4" lengthAdjust="spacingAndGlyphs" transform="rotate(-90 26.3 465.36)" stroke="#000" stroke-width="0.2">40</text>
<text x="26.3" y="437.72" font-family="'Liberation Sans', sans-serif" font-size="9.6" font-weight="normal" text-anchor="middle" fill="#000" textLength="10.4" lengthAdjust="spacingAndGlyphs" transform="rotate(-90 26.3 437.72)" stroke="#000" stroke-width="0.2">80</text>
<text x="26.3" y="410.08" font-family="'Liberation Sans', sans-serif" font-size="9.6" font-weight="normal" text-anchor="middle" fill="#000" textLength="15.6" lengthAdjust="spacingAndGlyphs" transform="rotate(-90 26.3 410.08)" stroke="#000" stroke-width="0.2">120</text>
<text x="26.3" y="382.44" font-family="'Liberation Sans', sans-serif" font-size="9.6" font-weight="normal" text-anchor="middle" fill="#000" textLength="15.6" lengthAdjust="spacingAndGlyphs" transform="rotate(-90 26.3 382.44)" stroke="#000" stroke-width="0.2">160</text>
<text x="26.3" y="354.8" font-family="'Liberation Sans', sans-serif" font-size="9.6" font-weight="normal" text-anchor="middle" fill="#000" textLength="15.6" lengthAdjust="spacingAndGlyphs" transform="rotate(-90 26.3 354.8)" stroke="#000" stroke-width="0.2">200</text>
<line x1="32.9" y1="494.5" x2="32.9" y2="498.1" stroke="#000" stroke-width="1.1" />
<line x1="41.93" y1="494.5" x2="41.93" y2="497.2" stroke="#000" stroke-width="1.1" />
<line x1="47.21" y1="494.5" x2="47.21" y2="497.2" stroke="#000" stroke-width="1.1" />
<line x1="50.96" y1="494.5" x2="50.96" y2="497.2" stroke="#000" stroke-width="1.1" />
<line x1="53.87" y1="494.5" x2="53.87" y2="497.2" stroke="#000" stroke-width="1.1" />
<line x1="56.24" y1="494.5" x2="56.24" y2="497.2" stroke="#000" stroke-width="1.1" />
<line x1="58.25" y1="494.5" x2="58.25" y2="497.2" stroke="#000" stroke-width="1.1" />
<line x1="59.99" y1="494.5" x2="59.99" y2="497.2" stroke="#000" stroke-width="1.1" />
<line x1="61.53" y1="494.5" x2="61.53" y2="497.2" stroke="#000" stroke-width="1.1" />
<line x1="62.9" y1="494.5" x2="62.9" y2="498.1" stroke="#000" stroke-width="1.1" />
<line x1="71.93" y1="494.5" x2="71.93" y2="497.2" stroke="#000" stroke-width="1.1" />
<line x1="77.21" y1="494.5" x2="77.21" y2="497.2" stroke="#000" stroke-width="1.1" />
<line x1="80.96" y1="494.5" x2="80.96" y2="497.2" stroke="#000" stroke-width="1.1" />
<line x1="83.87" y1="494.5" x2="83.87" y2="497.2" stroke="#000" stroke-width="1.1" />
<line x1="86.24" y1="494.5" x2="86.24" y2="497.2" stroke="#000" stroke-width="1.1" />
<line x1="88.25" y1="494.5" x2="88.25" y2="497.2" stroke="#000" stroke-width="1.1" />
<line x1="89.99" y1="494.5" x2="89.99" y2="497.2" stroke="#000" stroke-width="1.1" />
<line x1="91.53" y1="494.5" x2="91.53" y2="497.2" stroke="#000" stroke-width="1.1" />
<line x1="92.9" y1="494.5" x2="92.9" y2="498.1" stroke="#000" stroke-width="1.1" />
<line x1="101.93" y1="494.5" x2="101.93" y2="497.2" stroke="#000" stroke-width="1.1" />
<line x1="107.21" y1="494.5" x2="107.21" y2="497.2" stroke="#000" stroke-width="1.1" />
<line x1="110.96" y1="494.5" x2="110.96" y2="497.2" stroke="#000" stroke-width="1.1" />
<line x1="113.87" y1="494.5" x2="113.87" y2="497.2" stroke="#000" stroke-width="1.1" />
<line x1="116.24" y1="494.5" x2="116.24" y2="497.2" stroke="#000" stroke-width="1.1" />
<line x1="118.25" y1="494.5" x2="118.25" y2="497.2" stroke="#000" stroke-width="1.1" />
<line x1="119.99" y1="494.5" x2="119.99" y2="497.2" stroke="#000" stroke-width="1.1" />
<line x1="121.53" y1="494.5" x2="121.53" y2="497.2" stroke="#000" stroke-width="1.1" />
<line x1="122.9" y1="494.5" x2="122.9" y2="498.1" stroke="#000" stroke-width="1.1" />
<line x1="131.93" y1="494.5" x2="131.93" y2="497.2" stroke="#000" stroke-width="1.1" />
<line x1="137.21" y1="494.5" x2="137.21" y2="497.2" stroke="#000" stroke-width="1.1" />
<line x1="140.96" y1="494.5" x2="140.96" y2="497.2" stroke="#000" stroke-width="1.1" />
<line x1="143.87" y1="494.5" x2="143.87" y2="497.2" stroke="#000" stroke-width="1.1" />
<line x1="146.24" y1="494.5" x2="146.24" y2="497.2" stroke="#000" stroke-width="1.1" />
<line x1="148.25" y1="494.5" x2="148.25" y2="497.2" stroke="#000" stroke-width="1.1" />
<line x1="149.99" y1="494.5" x2="149.99" y2="497.2" stroke="#000" stroke-width="1.1" />
<line x1="151.53" y1="494.5" x2="151.53" y2="497.2" stroke="#000" stroke-width="1.1" />
<line x1="152.9" y1="494.5" x2="152.9" y2="498.1" stroke="#000" stroke-width="1.1" />
<text x="35.5" y="508.9" font-family="'Liberation Sans', sans-serif" font-size="8.8" font-weight="normal" text-anchor="end" fill="#000" textLength="7.4" lengthAdjust="spacingAndGlyphs" stroke="#000" stroke-width="0.2">10</text>
<text x="35.7" y="504.1" font-family="'Liberation Sans', sans-serif" font-size="8.2" font-weight="normal" text-anchor="start" fill="#000" textLength="3.6" lengthAdjust="spacingAndGlyphs" stroke="#000" stroke-width="0.15">0</text>
<text x="65.5" y="508.9" font-family="'Liberation Sans', sans-serif" font-size="8.8" font-weight="normal" text-anchor="end" fill="#000" textLength="7.4" lengthAdjust="spacingAndGlyphs" stroke="#000" stroke-width="0.2">10</text>
<text x="65.7" y="504.1" font-family="'Liberation Sans', sans-serif" font-size="8.2" font-weight="normal" text-anchor="start" fill="#000" textLength="3.6" lengthAdjust="spacingAndGlyphs" stroke="#000" stroke-width="0.15">1</text>
<text x="95.5" y="508.9" font-family="'Liberation Sans', sans-serif" font-size="8.8" font-weight="normal" text-anchor="end" fill="#000" textLength="7.4" lengthAdjust="spacingAndGlyphs" stroke="#000" stroke-width="0.2">10</text>
<text x="95.7" y="504.1" font-family="'Liberation Sans', sans-serif" font-size="8.2" font-weight="normal" text-anchor="start" fill="#000" textLength="3.6" lengthAdjust="spacingAndGlyphs" stroke="#000" stroke-width="0.15">2</text>
<text x="125.5" y="508.9" font-family="'Liberation Sans', sans-serif" font-size="8.8" font-weight="normal" text-anchor="end" fill="#000" textLength="7.4" lengthAdjust="spacingAndGlyphs" stroke="#000" stroke-width="0.2">10</text>
<text x="125.7" y="504.1" font-family="'Liberation Sans', sans-serif" font-size="8.2" font-weight="normal" text-anchor="start" fill="#000" textLength="3.6" lengthAdjust="spacingAndGlyphs" stroke="#000" stroke-width="0.15">3</text>
<text x="155.5" y="508.9" font-family="'Liberation Sans', sans-serif" font-size="8.8" font-weight="normal" text-anchor="end" fill="#000" textLength="7.4" lengthAdjust="spacingAndGlyphs" stroke="#000" stroke-width="0.2">10</text>
<text x="155.7" y="504.1" font-family="'Liberation Sans', sans-serif" font-size="8.2" font-weight="normal" text-anchor="start" fill="#000" textLength="3.6" lengthAdjust="spacingAndGlyphs" stroke="#000" stroke-width="0.15">4</text>
<text x="73.2" y="373.7" font-family="'Liberation Sans', sans-serif" font-size="16.5" font-weight="normal" text-anchor="start" fill="#000" textLength="76.6" lengthAdjust="spacingAndGlyphs" stroke="#000" stroke-width="0.45">RMA/Rae-1β</text>
<line x1="68.4" y1="431.2" x2="152.9" y2="431.2" stroke="#000" stroke-width="1.3" />
<line x1="68.4" y1="422.4" x2="68.4" y2="440" stroke="#000" stroke-width="1.3" />
<text x="111.2" y="442.8" font-family="'Liberation Sans', sans-serif" font-size="9.8" font-weight="normal" text-anchor="start" fill="#000" textLength="11.2" lengthAdjust="spacingAndGlyphs" stroke="#000" stroke-width="0.3">M1</text>
<path d="M33 656.4 L34 656 L36 655.5 L40.6 652.5 L44.2 647.5 L46.8 640 L48.4 630 L49.3 615 L50 600 L51 585 L52.2 575 L53.2 560 L54.2 545 L55.2 530 L56.4 519.5 L57.8 519.5 L58.7 530 L59.4 545 L60 560 L60.8 575 L61.2 585 L61.7 600 L62.2 615 L63 630 L64.2 638 L66.2 643 L68.3 648.5 L72.5 651.5 L77.6 653.5 L85 655 L95 655.8 L95 656.4 Z" fill="url(#gfill2)" stroke="none"/>
<path d="M34 656 L36 655.5 L40.6 652.5 L44.2 647.5 L46.8 640 L48.4 630 L49.3 615 L50 600 L51 585 L52.2 575 L53.2 560 L54.2 545 L55.2 530 L56.4 519.5 L57.8 519.5 L58.7 530 L59.4 545 L60 560 L60.8 575 L61.2 585 L61.7 600 L62.2 615 L63 630 L64.2 638 L66.2 643 L68.3 648.5 L72.5 651.5 L77.6 653.5 L85 655 L95 655.8" fill="none" stroke="#1a1a1a" stroke-width="1.3" stroke-linejoin="round"/>
<path d="M34 655.9 L35.91 655.86 L37.43 655.82 L38.81 655.78 L40.23 655.74 L42 655.7 L43.8 655.6 L46.14 655.5 L47.9 655.4 L49.81 654.93 L51.32 654.47 L52.8 654 L54.68 652.83 L56.35 651.67 L57.8 650.5 L58.46 649.12 L59.76 647.75 L61.11 646.38 L61.8 645 L62.99 644 L64.15 643 L65.7 642 L67.48 641 L69.7 640 L71.06 639 L72.32 638 L73.7 637 L76.5 636 L77.55 634.5 L78.34 633 L79.46 631.5 L80 630 L80.11 628.33 L80.52 626.67 L81.08 625 L81.23 623.33 L81.98 621.67 L82.2 620 L82.72 618.33 L82.47 616.67 L83 615 L83.67 613.33 L83.5 611.67 L84.1 610 L84.24 608.33 L84.57 606.67 L84.53 605 L84.79 603.33 L84.96 601.67 L85.4 600 L85.89 598.33 L85.55 596.67 L86.16 595 L86.46 593.33 L86.4 591.67 L86.8 590 L86.98 588.33 L87.43 586.67 L87.26 585 L87.59 583.33 L87.78 581.67 L87.8 580 L87.83 578.33 L88.51 576.67 L88.28 575 L88.7 573.33 L88.99 571.67 L88.9 570 L89.51 568.33 L90.04 566.67 L90.5 565 L91.7 562.7 L92.8 565 L93.28 566.67 L94.23 568.33 L94.5 570 L94.43 571.67 L94.8 573.33 L95.14 575 L95.2 576.67 L95.7 578.33 L95.6 580 L95.92 581.67 L95.6 583.33 L95.69 585 L95.93 586.67 L96.19 588.33 L95.9 590 L95.97 591.67 L96.05 593.33 L96.37 595 L96.42 596.67 L96.67 598.33 L96.6 600 L96.94 601.67 L96.72 603.33 L96.92 605 L96.97 606.67 L97.65 608.33 L97.6 610 L98.14 611.67 L97.79 613.33 L98 615 L98.72 616.67 L98.57 618.33 L99 620 L99 621.67 L99.28 623.33 L99.91 625 L100.08 626.67 L100.44 628.33 L100.8 630 L101.39 631.67 L101.77 633.33 L102.25 635 L102.71 636.67 L103.3 638.33 L103.6 640 L104.19 641.67 L105.01 643.33 L105.6 645 L106.92 646.38 L107.95 647.75 L108.88 649.12 L109.8 650.5 L111.57 651.5 L112.85 652.5 L114.7 653.5 L116.32 654.17 L118.05 654.83 L119.6 655.5 L121.58 655.6 L123.52 655.7 L125 655.8 L126 654.93 L127.82 655.06 L128.88 655.19" fill="none" stroke="#000" stroke-width="2.1" stroke-linejoin="round"/>
<rect x="32.5" y="518.6" width="120.4" height="137.8" fill="none" stroke="#000" stroke-width="1.2"/>
<line x1="28" y1="656.4" x2="32.5" y2="656.4" stroke="#000" stroke-width="1.1" />
<line x1="30" y1="650.89" x2="32.5" y2="650.89" stroke="#000" stroke-width="1.1" />
<line x1="30" y1="645.38" x2="32.5" y2="645.38" stroke="#000" stroke-width="1.1" />
<line x1="30" y1="639.86" x2="32.5" y2="639.86" stroke="#000" stroke-width="1.1" />
<line x1="30" y1="634.35" x2="32.5" y2="634.35" stroke="#000" stroke-width="1.1" />
<line x1="28" y1="628.84" x2="32.5" y2="628.84" stroke="#000" stroke-width="1.1" />
<line x1="30" y1="623.33" x2="32.5" y2="623.33" stroke="#000" stroke-width="1.1" />
<line x1="30" y1="617.82" x2="32.5" y2="617.82" stroke="#000" stroke-width="1.1" />
<line x1="30" y1="612.3" x2="32.5" y2="612.3" stroke="#000" stroke-width="1.1" />
<line x1="30" y1="606.79" x2="32.5" y2="606.79" stroke="#000" stroke-width="1.1" />
<line x1="28" y1="601.28" x2="32.5" y2="601.28" stroke="#000" stroke-width="1.1" />
<line x1="30" y1="595.77" x2="32.5" y2="595.77" stroke="#000" stroke-width="1.1" />
<line x1="30" y1="590.26" x2="32.5" y2="590.26" stroke="#000" stroke-width="1.1" />
<line x1="30" y1="584.74" x2="32.5" y2="584.74" stroke="#000" stroke-width="1.1" />
<line x1="30" y1="579.23" x2="32.5" y2="579.23" stroke="#000" stroke-width="1.1" />
<line x1="28" y1="573.72" x2="32.5" y2="573.72" stroke="#000" stroke-width="1.1" />
<line x1="30" y1="568.21" x2="32.5" y2="568.21" stroke="#000" stroke-width="1.1" />
<line x1="30" y1="562.7" x2="32.5" y2="562.7" stroke="#000" stroke-width="1.1" />
<line x1="30" y1="557.18" x2="32.5" y2="557.18" stroke="#000" stroke-width="1.1" />
<line x1="30" y1="551.67" x2="32.5" y2="551.67" stroke="#000" stroke-width="1.1" />
<line x1="28" y1="546.16" x2="32.5" y2="546.16" stroke="#000" stroke-width="1.1" />
<line x1="30" y1="540.65" x2="32.5" y2="540.65" stroke="#000" stroke-width="1.1" />
<line x1="30" y1="535.14" x2="32.5" y2="535.14" stroke="#000" stroke-width="1.1" />
<line x1="30" y1="529.62" x2="32.5" y2="529.62" stroke="#000" stroke-width="1.1" />
<line x1="30" y1="524.11" x2="32.5" y2="524.11" stroke="#000" stroke-width="1.1" />
<line x1="28" y1="518.6" x2="32.5" y2="518.6" stroke="#000" stroke-width="1.1" />
<text x="25.9" y="654.9" font-family="'Liberation Sans', sans-serif" font-size="9.6" font-weight="normal" text-anchor="middle" fill="#000" textLength="5.2" lengthAdjust="spacingAndGlyphs" transform="rotate(-90 25.9 654.9)" stroke="#000" stroke-width="0.2">0</text>
<text x="25.9" y="627.34" font-family="'Liberation Sans', sans-serif" font-size="9.6" font-weight="normal" text-anchor="middle" fill="#000" textLength="10.4" lengthAdjust="spacingAndGlyphs" transform="rotate(-90 25.9 627.34)" stroke="#000" stroke-width="0.2">60</text>
<text x="25.9" y="599.78" font-family="'Liberation Sans', sans-serif" font-size="9.6" font-weight="normal" text-anchor="middle" fill="#000" textLength="15.6" lengthAdjust="spacingAndGlyphs" transform="rotate(-90 25.9 599.78)" stroke="#000" stroke-width="0.2">120</text>
<text x="25.9" y="572.22" font-family="'Liberation Sans', sans-serif" font-size="9.6" font-weight="normal" text-anchor="middle" fill="#000" textLength="15.6" lengthAdjust="spacingAndGlyphs" transform="rotate(-90 25.9 572.22)" stroke="#000" stroke-width="0.2">180</text>
<text x="25.9" y="544.66" font-family="'Liberation Sans', sans-serif" font-size="9.6" font-weight="normal" text-anchor="middle" fill="#000" textLength="15.6" lengthAdjust="spacingAndGlyphs" transform="rotate(-90 25.9 544.66)" stroke="#000" stroke-width="0.2">240</text>
<text x="25.9" y="517.1" font-family="'Liberation Sans', sans-serif" font-size="9.6" font-weight="normal" text-anchor="middle" fill="#000" textLength="15.6" lengthAdjust="spacingAndGlyphs" transform="rotate(-90 25.9 517.1)" stroke="#000" stroke-width="0.2">300</text>
<line x1="32.5" y1="656.4" x2="32.5" y2="660" stroke="#000" stroke-width="1.1" />
<line x1="41.56" y1="656.4" x2="41.56" y2="659.1" stroke="#000" stroke-width="1.1" />
<line x1="46.86" y1="656.4" x2="46.86" y2="659.1" stroke="#000" stroke-width="1.1" />
<line x1="50.62" y1="656.4" x2="50.62" y2="659.1" stroke="#000" stroke-width="1.1" />
<line x1="53.54" y1="656.4" x2="53.54" y2="659.1" stroke="#000" stroke-width="1.1" />
<line x1="55.92" y1="656.4" x2="55.92" y2="659.1" stroke="#000" stroke-width="1.1" />
<line x1="57.94" y1="656.4" x2="57.94" y2="659.1" stroke="#000" stroke-width="1.1" />
<line x1="59.68" y1="656.4" x2="59.68" y2="659.1" stroke="#000" stroke-width="1.1" />
<line x1="61.22" y1="656.4" x2="61.22" y2="659.1" stroke="#000" stroke-width="1.1" />
<line x1="62.6" y1="656.4" x2="62.6" y2="660" stroke="#000" stroke-width="1.1" />
<line x1="71.66" y1="656.4" x2="71.66" y2="659.1" stroke="#000" stroke-width="1.1" />
<line x1="76.96" y1="656.4" x2="76.96" y2="659.1" stroke="#000" stroke-width="1.1" />
<line x1="80.72" y1="656.4" x2="80.72" y2="659.1" stroke="#000" stroke-width="1.1" />
<line x1="83.64" y1="656.4" x2="83.64" y2="659.1" stroke="#000" stroke-width="1.1" />
<line x1="86.02" y1="656.4" x2="86.02" y2="659.1" stroke="#000" stroke-width="1.1" />
<line x1="88.04" y1="656.4" x2="88.04" y2="659.1" stroke="#000" stroke-width="1.1" />
<line x1="89.78" y1="656.4" x2="89.78" y2="659.1" stroke="#000" stroke-width="1.1" />
<line x1="91.32" y1="656.4" x2="91.32" y2="659.1" stroke="#000" stroke-width="1.1" />
<line x1="92.7" y1="656.4" x2="92.7" y2="660" stroke="#000" stroke-width="1.1" />
<line x1="101.76" y1="656.4" x2="101.76" y2="659.1" stroke="#000" stroke-width="1.1" />
<line x1="107.06" y1="656.4" x2="107.06" y2="659.1" stroke="#000" stroke-width="1.1" />
<line x1="110.82" y1="656.4" x2="110.82" y2="659.1" stroke="#000" stroke-width="1.1" />
<line x1="113.74" y1="656.4" x2="113.74" y2="659.1" stroke="#000" stroke-width="1.1" />
<line x1="116.12" y1="656.4" x2="116.12" y2="659.1" stroke="#000" stroke-width="1.1" />
<line x1="118.14" y1="656.4" x2="118.14" y2="659.1" stroke="#000" stroke-width="1.1" />
<line x1="119.88" y1="656.4" x2="119.88" y2="659.1" stroke="#000" stroke-width="1.1" />
<line x1="121.42" y1="656.4" x2="121.42" y2="659.1" stroke="#000" stroke-width="1.1" />
<line x1="122.8" y1="656.4" x2="122.8" y2="660" stroke="#000" stroke-width="1.1" />
<line x1="131.86" y1="656.4" x2="131.86" y2="659.1" stroke="#000" stroke-width="1.1" />
<line x1="137.16" y1="656.4" x2="137.16" y2="659.1" stroke="#000" stroke-width="1.1" />
<line x1="140.92" y1="656.4" x2="140.92" y2="659.1" stroke="#000" stroke-width="1.1" />
<line x1="143.84" y1="656.4" x2="143.84" y2="659.1" stroke="#000" stroke-width="1.1" />
<line x1="146.22" y1="656.4" x2="146.22" y2="659.1" stroke="#000" stroke-width="1.1" />
<line x1="148.24" y1="656.4" x2="148.24" y2="659.1" stroke="#000" stroke-width="1.1" />
<line x1="149.98" y1="656.4" x2="149.98" y2="659.1" stroke="#000" stroke-width="1.1" />
<line x1="151.52" y1="656.4" x2="151.52" y2="659.1" stroke="#000" stroke-width="1.1" />
<line x1="152.9" y1="656.4" x2="152.9" y2="660" stroke="#000" stroke-width="1.1" />
<text x="35.1" y="670.8" font-family="'Liberation Sans', sans-serif" font-size="8.8" font-weight="normal" text-anchor="end" fill="#000" textLength="7.4" lengthAdjust="spacingAndGlyphs" stroke="#000" stroke-width="0.2">10</text>
<text x="35.3" y="666" font-family="'Liberation Sans', sans-serif" font-size="8.2" font-weight="normal" text-anchor="start" fill="#000" textLength="3.6" lengthAdjust="spacingAndGlyphs" stroke="#000" stroke-width="0.15">0</text>
<text x="65.2" y="670.8" font-family="'Liberation Sans', sans-serif" font-size="8.8" font-weight="normal" text-anchor="end" fill="#000" textLength="7.4" lengthAdjust="spacingAndGlyphs" stroke="#000" stroke-width="0.2">10</text>
<text x="65.4" y="666" font-family="'Liberation Sans', sans-serif" font-size="8.2" font-weight="normal" text-anchor="start" fill="#000" textLength="3.6" lengthAdjust="spacingAndGlyphs" stroke="#000" stroke-width="0.15">1</text>
<text x="95.3" y="670.8" font-family="'Liberation Sans', sans-serif" font-size="8.8" font-weight="normal" text-anchor="end" fill="#000" textLength="7.4" lengthAdjust="spacingAndGlyphs" stroke="#000" stroke-width="0.2">10</text>
<text x="95.5" y="666" font-family="'Liberation Sans', sans-serif" font-size="8.2" font-weight="normal" text-anchor="start" fill="#000" textLength="3.6" lengthAdjust="spacingAndGlyphs" stroke="#000" stroke-width="0.15">2</text>
<text x="125.4" y="670.8" font-family="'Liberation Sans', sans-serif" font-size="8.8" font-weight="normal" text-anchor="end" fill="#000" textLength="7.4" lengthAdjust="spacingAndGlyphs" stroke="#000" stroke-width="0.2">10</text>
<text x="125.6" y="666" font-family="'Liberation Sans', sans-serif" font-size="8.2" font-weight="normal" text-anchor="start" fill="#000" textLength="3.6" lengthAdjust="spacingAndGlyphs" stroke="#000" stroke-width="0.15">3</text>
<text x="155.5" y="670.8" font-family="'Liberation Sans', sans-serif" font-size="8.8" font-weight="normal" text-anchor="end" fill="#000" textLength="7.4" lengthAdjust="spacingAndGlyphs" stroke="#000" stroke-width="0.2">10</text>
<text x="155.7" y="666" font-family="'Liberation Sans', sans-serif" font-size="8.2" font-weight="normal" text-anchor="start" fill="#000" textLength="3.6" lengthAdjust="spacingAndGlyphs" stroke="#000" stroke-width="0.15">4</text>
<text x="84.2" y="535.5" font-family="'Liberation Sans', sans-serif" font-size="16.5" font-weight="normal" text-anchor="start" fill="#000" textLength="59" lengthAdjust="spacingAndGlyphs" stroke="#000" stroke-width="0.45">RMA/H60</text>
<line x1="67.5" y1="600.5" x2="150" y2="600.5" stroke="#000" stroke-width="1.3" />
<line x1="67.5" y1="591.7" x2="67.5" y2="609.3" stroke="#000" stroke-width="1.3" />
<line x1="150" y1="591.7" x2="150" y2="609.3" stroke="#000" stroke-width="1.3" />
<text x="108.1" y="611.1" font-family="'Liberation Sans', sans-serif" font-size="9.8" font-weight="normal" text-anchor="start" fill="#000" textLength="11.2" lengthAdjust="spacingAndGlyphs" stroke="#000" stroke-width="0.3">M1</text>
<line x1="18.5" y1="688" x2="25.8" y2="688" stroke="#000" stroke-width="1.7" />
<text x="30.5" y="688.8" font-family="'Liberation Sans', sans-serif" font-size="12.6" font-weight="bold" text-anchor="start" fill="#000" textLength="111.5" lengthAdjust="spacingAndGlyphs" >msNKG2D-Fc-FITC</text>
<line x1="142.5" y1="684.6" x2="154" y2="684.6" stroke="#000" stroke-width="1.8" />
<path d="M157.6 684.6 L151.5 681.4 L151.5 687.8 Z" fill="#000"/>
<text x="169.4" y="19.8" font-family="'Liberation Sans', sans-serif" font-size="25.5" font-weight="bold" text-anchor="start" fill="#000" stroke="#000" stroke-width="0.7">B</text>
<line x1="219.3" y1="162.43" x2="516.3" y2="162.43" stroke="#555" stroke-width="1" />
<line x1="219.3" y1="119.05" x2="516.3" y2="119.05" stroke="#555" stroke-width="1" />
<line x1="219.3" y1="75.68" x2="516.3" y2="75.68" stroke="#555" stroke-width="1" />
<line x1="219.3" y1="32.3" x2="516.3" y2="32.3" stroke="#555" stroke-width="1" />
<line x1="216.3" y1="205.8" x2="219.3" y2="205.8" stroke="#333" stroke-width="1" />
<text x="212.3" y="210.1" font-family="'Liberation Sans', sans-serif" font-size="11" font-weight="normal" text-anchor="end" fill="#000" textLength="5.75" lengthAdjust="spacingAndGlyphs" stroke="#000" stroke-width="0.35">0</text>
<line x1="216.3" y1="162.43" x2="219.3" y2="162.43" stroke="#333" stroke-width="1" />
<text x="212.3" y="166.4" font-family="'Liberation Sans', sans-serif" font-size="11" font-weight="normal" text-anchor="end" fill="#000" textLength="11.5" lengthAdjust="spacingAndGlyphs" stroke="#000" stroke-width="0.35">10</text>
<line x1="216.3" y1="119.05" x2="219.3" y2="119.05" stroke="#333" stroke-width="1" />
<text x="212.3" y="123.3" font-family="'Liberation Sans', sans-serif" font-size="11" font-weight="normal" text-anchor="end" fill="#000" textLength="11.5" lengthAdjust="spacingAndGlyphs" stroke="#000" stroke-width="0.35">20</text>
<line x1="216.3" y1="75.68" x2="219.3" y2="75.68" stroke="#333" stroke-width="1" />
<text x="212.3" y="80.5" font-family="'Liberation Sans', sans-serif" font-size="11" font-weight="normal" text-anchor="end" fill="#000" textLength="11.5" lengthAdjust="spacingAndGlyphs" stroke="#000" stroke-width="0.35">30</text>
<line x1="216.3" y1="32.3" x2="219.3" y2="32.3" stroke="#333" stroke-width="1" />
<text x="212.3" y="38.15" font-family="'Liberation Sans', sans-serif" font-size="11" font-weight="normal" text-anchor="end" fill="#000" textLength="11.5" lengthAdjust="spacingAndGlyphs" stroke="#000" stroke-width="0.35">40</text>
<line x1="516.3" y1="32.3" x2="516.3" y2="205.8" stroke="#555" stroke-width="1" />
<text x="186.2" y="118.8" font-family="'Liberation Serif', serif" font-size="17.4" font-weight="bold" text-anchor="middle" fill="#000" textLength="110.8" lengthAdjust="spacingAndGlyphs" transform="rotate(-90 186.2 118.8)" >IFN-<tspan font-weight="normal" font-family="Liberation Sans, sans-serif" font-size="15">γ</tspan> (ng/mL)</text>
<rect x="225.01" y="205.45" width="7.62" height="0.35" fill="url(#wdot)" stroke="#000" stroke-width="0.7" />
<rect x="232.63" y="205.37" width="7.62" height="0.43" fill="url(#ldot)" stroke="#000" stroke-width="0.7" />
<rect x="240.24" y="205.15" width="7.62" height="0.65" fill="#000" stroke="#000" stroke-width="0.7" />
<line x1="251.67" y1="202.42" x2="251.67" y2="204.93" stroke="#333" stroke-width="0.9" />
<line x1="249.87" y1="202.42" x2="253.47" y2="202.42" stroke="#333" stroke-width="0.9" />
<rect x="247.86" y="204.93" width="7.62" height="0.87" fill="url(#chk)" stroke="#000" stroke-width="0.7" />
<line x1="259.28" y1="200.59" x2="259.28" y2="202.68" stroke="#333" stroke-width="0.9" />
<line x1="257.48" y1="200.59" x2="261.08" y2="200.59" stroke="#333" stroke-width="0.9" />
<rect x="255.47" y="202.68" width="7.62" height="3.12" fill="url(#stripe)" stroke="#000" stroke-width="0.7" />
<rect x="274.51" y="205.58" width="7.62" height="0.22" fill="url(#wdot)" stroke="#000" stroke-width="0.7" />
<rect x="282.13" y="205.28" width="7.62" height="0.52" fill="url(#ldot)" stroke="#000" stroke-width="0.7" />
<rect x="289.74" y="205.15" width="7.62" height="0.65" fill="#000" stroke="#000" stroke-width="0.7" />
<rect x="297.36" y="204.93" width="7.62" height="0.87" fill="url(#chk)" stroke="#000" stroke-width="0.7" />
<line x1="308.78" y1="194.31" x2="308.78" y2="201.2" stroke="#333" stroke-width="0.9" />
<line x1="306.98" y1="194.31" x2="310.58" y2="194.31" stroke="#333" stroke-width="0.9" />
<rect x="304.97" y="201.2" width="7.62" height="4.6" fill="url(#stripe)" stroke="#000" stroke-width="0.7" />
<rect x="324.01" y="205.58" width="7.62" height="0.22" fill="url(#wdot)" stroke="#000" stroke-width="0.7" />
<line x1="335.43" y1="203.85" x2="335.43" y2="204.93" stroke="#333" stroke-width="0.9" />
<line x1="333.63" y1="203.85" x2="337.23" y2="203.85" stroke="#333" stroke-width="0.9" />
<rect x="331.63" y="204.93" width="7.62" height="0.87" fill="url(#ldot)" stroke="#000" stroke-width="0.7" />
<line x1="343.05" y1="182.46" x2="343.05" y2="185.72" stroke="#333" stroke-width="0.9" />
<line x1="341.25" y1="182.46" x2="344.85" y2="182.46" stroke="#333" stroke-width="0.9" />
<rect x="339.24" y="185.72" width="7.62" height="20.08" fill="#000" stroke="#000" stroke-width="0.7" />
<line x1="350.67" y1="162.95" x2="350.67" y2="169.19" stroke="#333" stroke-width="0.9" />
<line x1="348.87" y1="162.95" x2="352.47" y2="162.95" stroke="#333" stroke-width="0.9" />
<rect x="346.86" y="169.19" width="7.62" height="36.61" fill="url(#chk)" stroke="#000" stroke-width="0.7" />
<line x1="358.28" y1="108.21" x2="358.28" y2="128.16" stroke="#333" stroke-width="0.9" />
<line x1="356.48" y1="108.21" x2="360.08" y2="108.21" stroke="#333" stroke-width="0.9" />
<rect x="354.47" y="128.16" width="7.62" height="77.64" fill="url(#stripe)" stroke="#000" stroke-width="0.7" />
<rect x="373.51" y="205.58" width="7.62" height="0.22" fill="url(#wdot)" stroke="#000" stroke-width="0.7" />
<rect x="381.13" y="205.37" width="7.62" height="0.43" fill="url(#ldot)" stroke="#000" stroke-width="0.7" />
<rect x="388.74" y="205.15" width="7.62" height="0.65" fill="#000" stroke="#000" stroke-width="0.7" />
<rect x="396.36" y="205.15" width="7.62" height="0.65" fill="url(#chk)" stroke="#000" stroke-width="0.7" />
<line x1="407.78" y1="192.14" x2="407.78" y2="199.38" stroke="#333" stroke-width="0.9" />
<line x1="405.98" y1="192.14" x2="409.58" y2="192.14" stroke="#333" stroke-width="0.9" />
<rect x="403.97" y="199.38" width="7.62" height="6.42" fill="url(#stripe)" stroke="#000" stroke-width="0.7" />
<line x1="426.82" y1="201.46" x2="426.82" y2="203.41" stroke="#333" stroke-width="0.9" />
<line x1="425.02" y1="201.46" x2="428.62" y2="201.46" stroke="#333" stroke-width="0.9" />
<rect x="423.01" y="203.41" width="7.62" height="2.39" fill="url(#wdot)" stroke="#000" stroke-width="0.7" />
<line x1="434.43" y1="199.94" x2="434.43" y2="203.2" stroke="#333" stroke-width="0.9" />
<line x1="432.63" y1="199.94" x2="436.23" y2="199.94" stroke="#333" stroke-width="0.9" />
<rect x="430.63" y="203.2" width="7.62" height="2.6" fill="url(#ldot)" stroke="#000" stroke-width="0.7" />
<line x1="442.05" y1="154.18" x2="442.05" y2="173.44" stroke="#333" stroke-width="0.9" />
<line x1="440.25" y1="154.18" x2="443.85" y2="154.18" stroke="#333" stroke-width="0.9" />
<rect x="438.24" y="173.44" width="7.62" height="32.36" fill="#000" stroke="#000" stroke-width="0.7" />
<line x1="449.67" y1="92.16" x2="449.67" y2="124.86" stroke="#333" stroke-width="0.9" />
<line x1="447.87" y1="92.16" x2="451.47" y2="92.16" stroke="#333" stroke-width="0.9" />
<rect x="445.86" y="124.86" width="7.62" height="80.94" fill="url(#chk)" stroke="#000" stroke-width="0.7" />
<line x1="457.28" y1="44.44" x2="457.28" y2="80.88" stroke="#333" stroke-width="0.9" />
<line x1="455.48" y1="44.44" x2="459.08" y2="44.44" stroke="#333" stroke-width="0.9" />
<rect x="453.47" y="80.88" width="7.62" height="124.92" fill="url(#stripe)" stroke="#000" stroke-width="0.7" />
<rect x="472.51" y="205.58" width="7.62" height="0.22" fill="url(#wdot)" stroke="#000" stroke-width="0.7" />
<rect x="480.13" y="205.58" width="7.62" height="0.22" fill="url(#ldot)" stroke="#000" stroke-width="0.7" />
<line x1="491.55" y1="200.29" x2="491.55" y2="203.5" stroke="#333" stroke-width="0.9" />
<line x1="489.75" y1="200.29" x2="493.35" y2="200.29" stroke="#333" stroke-width="0.9" />
<rect x="487.74" y="203.5" width="7.62" height="2.3" fill="#000" stroke="#000" stroke-width="0.7" />
<rect x="495.36" y="205.28" width="7.62" height="0.52" fill="url(#chk)" stroke="#000" stroke-width="0.7" />
<rect x="502.97" y="202.76" width="7.62" height="3.04" fill="url(#stripe)" stroke="#000" stroke-width="0.7" />
<line x1="219.3" y1="32.3" x2="219.3" y2="206.3" stroke="#333" stroke-width="1" />
<line x1="219.3" y1="205.8" x2="516.3" y2="205.8" stroke="#222" stroke-width="1.2" />
<line x1="219.3" y1="205.8" x2="219.3" y2="208.3" stroke="#333" stroke-width="0.9" />
<line x1="268.8" y1="205.8" x2="268.8" y2="208.3" stroke="#333" stroke-width="0.9" />
<line x1="318.3" y1="205.8" x2="318.3" y2="208.3" stroke="#333" stroke-width="0.9" />
<line x1="367.8" y1="205.8" x2="367.8" y2="208.3" stroke="#333" stroke-width="0.9" />
<line x1="417.3" y1="205.8" x2="417.3" y2="208.3" stroke="#333" stroke-width="0.9" />
<line x1="466.8" y1="205.8" x2="466.8" y2="208.3" stroke="#333" stroke-width="0.9" />
<line x1="516.3" y1="205.8" x2="516.3" y2="208.3" stroke="#333" stroke-width="0.9" />
<text x="246.3" y="218.8" font-family="'Liberation Sans', sans-serif" font-size="10.2" font-weight="normal" text-anchor="middle" fill="#000" textLength="29.2" lengthAdjust="spacingAndGlyphs" stroke="#000" stroke-width="0.55">Vector</text>
<text x="290.1" y="218.8" font-family="'Liberation Sans', sans-serif" font-size="10.2" font-weight="normal" text-anchor="middle" fill="#000" textLength="35.3" lengthAdjust="spacingAndGlyphs" stroke="#000" stroke-width="0.55">NKG2D</text>
<text x="340.5" y="218.8" font-family="'Liberation Sans', sans-serif" font-size="10.2" font-weight="normal" text-anchor="middle" fill="#000" textLength="47.1" lengthAdjust="spacingAndGlyphs" stroke="#000" stroke-width="0.55">chNKG2D</text>
<text x="391.8" y="218.8" font-family="'Liberation Sans', sans-serif" font-size="10.2" font-weight="normal" text-anchor="middle" fill="#000" textLength="43.7" lengthAdjust="spacingAndGlyphs" stroke="#000" stroke-width="0.55">wtDap10</text>
<text x="440" y="218.8" font-family="'Liberation Sans', sans-serif" font-size="10.2" font-weight="normal" text-anchor="middle" fill="#000" textLength="42.3" lengthAdjust="spacingAndGlyphs" stroke="#000" stroke-width="0.55">chDap10</text>
<text x="490" y="218.8" font-family="'Liberation Sans', sans-serif" font-size="10.2" font-weight="normal" text-anchor="middle" fill="#000" textLength="30" lengthAdjust="spacingAndGlyphs" stroke="#000" stroke-width="0.55">Dap12</text>
<text x="168.6" y="240.2" font-family="'Liberation Sans', sans-serif" font-size="25.5" font-weight="bold" text-anchor="start" fill="#000" stroke="#000" stroke-width="0.7">C</text>
<line x1="221.2" y1="361.97" x2="517.3" y2="361.97" stroke="#555" stroke-width="1" />
<line x1="221.2" y1="328.04" x2="517.3" y2="328.04" stroke="#555" stroke-width="1" />
<line x1="221.2" y1="294.11" x2="517.3" y2="294.11" stroke="#555" stroke-width="1" />
<line x1="221.2" y1="260.18" x2="517.3" y2="260.18" stroke="#555" stroke-width="1" />
<line x1="221.2" y1="226.25" x2="517.3" y2="226.25" stroke="#555" stroke-width="1" />
<line x1="218.6" y1="395.9" x2="221.2" y2="395.9" stroke="#333" stroke-width="1" />
<text x="215.1" y="400.4" font-family="'Liberation Sans', sans-serif" font-size="10.2" font-weight="normal" text-anchor="end" fill="#000" textLength="5.75" lengthAdjust="spacingAndGlyphs" stroke="#000" stroke-width="0.35">0</text>
<line x1="218.6" y1="361.97" x2="221.2" y2="361.97" stroke="#333" stroke-width="1" />
<text x="215.1" y="366.47" font-family="'Liberation Sans', sans-serif" font-size="10.2" font-weight="normal" text-anchor="end" fill="#000" textLength="17.25" lengthAdjust="spacingAndGlyphs" stroke="#000" stroke-width="0.35">100</text>
<line x1="218.6" y1="328.04" x2="221.2" y2="328.04" stroke="#333" stroke-width="1" />
<text x="215.1" y="332.54" font-family="'Liberation Sans', sans-serif" font-size="10.2" font-weight="normal" text-anchor="end" fill="#000" textLength="17.25" lengthAdjust="spacingAndGlyphs" stroke="#000" stroke-width="0.35">200</text>
<line x1="218.6" y1="294.11" x2="221.2" y2="294.11" stroke="#333" stroke-width="1" />
<text x="215.1" y="298.61" font-family="'Liberation Sans', sans-serif" font-size="10.2" font-weight="normal" text-anchor="end" fill="#000" textLength="17.25" lengthAdjust="spacingAndGlyphs" stroke="#000" stroke-width="0.35">300</text>
<line x1="218.6" y1="260.18" x2="221.2" y2="260.18" stroke="#333" stroke-width="1" />
<text x="215.1" y="264.68" font-family="'Liberation Sans', sans-serif" font-size="10.2" font-weight="normal" text-anchor="end" fill="#000" textLength="17.25" lengthAdjust="spacingAndGlyphs" stroke="#000" stroke-width="0.35">400</text>
<line x1="218.6" y1="226.25" x2="221.2" y2="226.25" stroke="#333" stroke-width="1" />
<text x="215.1" y="230.75" font-family="'Liberation Sans', sans-serif" font-size="10.2" font-weight="normal" text-anchor="end" fill="#000" textLength="17.25" lengthAdjust="spacingAndGlyphs" stroke="#000" stroke-width="0.35">500</text>
<line x1="517.3" y1="226.25" x2="517.3" y2="395.9" stroke="#555" stroke-width="1" />
<text x="185.5" y="311.6" font-family="'Liberation Serif', serif" font-size="18.5" font-weight="bold" text-anchor="middle" fill="#000" textLength="53.4" lengthAdjust="spacingAndGlyphs" transform="rotate(-90 185.5 311.6)" >pg/mL</text>
<rect x="226.25" y="395.05" width="6.73" height="0.85" fill="url(#chkC1)" stroke="#000" stroke-width="0.6" />
<line x1="236.34" y1="389.62" x2="236.34" y2="391.15" stroke="#333" stroke-width="0.9" />
<line x1="234.54" y1="389.62" x2="238.14" y2="389.62" stroke="#333" stroke-width="0.9" />
<rect x="232.98" y="391.15" width="6.73" height="4.75" fill="url(#chk2)" stroke="#000" stroke-width="0.6" />
<rect x="239.71" y="395.8" width="6.73" height="0.1" fill="#fff" stroke="#000" stroke-width="0.6" />
<rect x="246.44" y="392.85" width="6.73" height="3.05" fill="#000" stroke="#000" stroke-width="0.6" />
<rect x="263.26" y="394.31" width="6.73" height="1.59" fill="url(#chkC1)" stroke="#000" stroke-width="0.6" />
<rect x="269.99" y="390.98" width="6.73" height="4.92" fill="url(#chk2)" stroke="#000" stroke-width="0.6" />
<rect x="276.72" y="395.8" width="6.73" height="0.1" fill="#fff" stroke="#000" stroke-width="0.6" />
<rect x="283.45" y="392.85" width="6.73" height="3.05" fill="#000" stroke="#000" stroke-width="0.6" />
<rect x="300.27" y="390.3" width="6.73" height="5.6" fill="url(#chkC1)" stroke="#000" stroke-width="0.6" />
<rect x="307" y="392.3" width="6.73" height="3.6" fill="url(#chk2)" stroke="#000" stroke-width="0.6" />
<rect x="313.73" y="395.56" width="6.73" height="0.34" fill="#fff" stroke="#000" stroke-width="0.6" />
<rect x="320.46" y="393.8" width="6.73" height="2.1" fill="#000" stroke="#000" stroke-width="0.6" />
<rect x="337.28" y="390" width="6.73" height="5.9" fill="url(#chkC1)" stroke="#000" stroke-width="0.6" />
<rect x="344.01" y="393.02" width="6.73" height="2.88" fill="url(#chk2)" stroke="#000" stroke-width="0.6" />
<rect x="350.74" y="395.73" width="6.73" height="0.17" fill="#fff" stroke="#000" stroke-width="0.6" />
<rect x="357.47" y="393.8" width="6.73" height="2.1" fill="#000" stroke="#000" stroke-width="0.6" />
<line x1="377.66" y1="387.21" x2="377.66" y2="389.22" stroke="#333" stroke-width="0.9" />
<line x1="375.86" y1="387.21" x2="379.46" y2="387.21" stroke="#333" stroke-width="0.9" />
<rect x="374.3" y="389.22" width="6.73" height="6.68" fill="url(#chkC1)" stroke="#000" stroke-width="0.6" />
<rect x="381.03" y="392.81" width="6.73" height="3.09" fill="url(#chk2)" stroke="#000" stroke-width="0.6" />
<rect x="387.76" y="395.02" width="6.73" height="0.88" fill="#fff" stroke="#000" stroke-width="0.6" />
<rect x="394.49" y="393.39" width="6.73" height="2.51" fill="#000" stroke="#000" stroke-width="0.6" />
<line x1="414.67" y1="256.52" x2="414.67" y2="282.3" stroke="#333" stroke-width="0.9" />
<line x1="412.87" y1="256.52" x2="416.47" y2="256.52" stroke="#333" stroke-width="0.9" />
<rect x="411.31" y="282.3" width="6.73" height="113.6" fill="url(#chkC1)" stroke="#000" stroke-width="0.6" />
<line x1="421.4" y1="360.21" x2="421.4" y2="369.2" stroke="#333" stroke-width="0.9" />
<line x1="419.6" y1="360.21" x2="423.2" y2="360.21" stroke="#333" stroke-width="0.9" />
<rect x="418.04" y="369.2" width="6.73" height="26.7" fill="url(#chk2)" stroke="#000" stroke-width="0.6" />
<rect x="424.77" y="395.73" width="6.73" height="0.17" fill="#fff" stroke="#000" stroke-width="0.6" />
<rect x="431.5" y="393.52" width="6.73" height="2.38" fill="#000" stroke="#000" stroke-width="0.6" />
<rect x="448.32" y="392.3" width="6.73" height="3.6" fill="url(#chkC1)" stroke="#000" stroke-width="0.6" />
<rect x="455.05" y="393.39" width="6.73" height="2.51" fill="url(#chk2)" stroke="#000" stroke-width="0.6" />
<rect x="461.78" y="395.73" width="6.73" height="0.17" fill="#fff" stroke="#000" stroke-width="0.6" />
<rect x="468.51" y="394.2" width="6.73" height="1.7" fill="#000" stroke="#000" stroke-width="0.6" />
<rect x="485.33" y="388.44" width="6.73" height="7.46" fill="url(#chkC1)" stroke="#000" stroke-width="0.6" />
<rect x="492.06" y="392.85" width="6.73" height="3.05" fill="url(#chk2)" stroke="#000" stroke-width="0.6" />
<rect x="498.79" y="395.73" width="6.73" height="0.17" fill="#fff" stroke="#000" stroke-width="0.6" />
<rect x="505.52" y="394.31" width="6.73" height="1.59" fill="#000" stroke="#000" stroke-width="0.6" />
<line x1="221.2" y1="226.25" x2="221.2" y2="396.4" stroke="#333" stroke-width="1" />
<line x1="221.2" y1="395.9" x2="517.3" y2="395.9" stroke="#222" stroke-width="1.2" />
<line x1="221.2" y1="395.9" x2="221.2" y2="398.4" stroke="#333" stroke-width="0.9" />
<line x1="258.21" y1="395.9" x2="258.21" y2="398.4" stroke="#333" stroke-width="0.9" />
<line x1="295.22" y1="395.9" x2="295.22" y2="398.4" stroke="#333" stroke-width="0.9" />
<line x1="332.24" y1="395.9" x2="332.24" y2="398.4" stroke="#333" stroke-width="0.9" />
<line x1="369.25" y1="395.9" x2="369.25" y2="398.4" stroke="#333" stroke-width="0.9" />
<line x1="406.26" y1="395.9" x2="406.26" y2="398.4" stroke="#333" stroke-width="0.9" />
<line x1="443.27" y1="395.9" x2="443.27" y2="398.4" stroke="#333" stroke-width="0.9" />
<line x1="480.29" y1="395.9" x2="480.29" y2="398.4" stroke="#333" stroke-width="0.9" />
<line x1="517.3" y1="395.9" x2="517.3" y2="398.4" stroke="#333" stroke-width="0.9" />
<text x="244.21" y="405.5" font-family="'Liberation Sans', sans-serif" font-size="10.6" font-weight="normal" text-anchor="end" fill="#000" transform="rotate(-43.5 244.21 405.5)" stroke="#000" stroke-width="0.3">Vector+Media</text>
<text x="277.72" y="405.5" font-family="'Liberation Sans', sans-serif" font-size="10.6" font-weight="normal" text-anchor="end" fill="#000" transform="rotate(-43.5 277.72 405.5)" stroke="#000" stroke-width="0.3">chNKG2D+media</text>
<text x="314.73" y="405.5" font-family="'Liberation Sans', sans-serif" font-size="10.6" font-weight="normal" text-anchor="end" fill="#000" transform="rotate(-43.5 314.73 405.5)" stroke="#000" stroke-width="0.3">Vector+RMA</text>
<text x="351.74" y="405.5" font-family="'Liberation Sans', sans-serif" font-size="10.6" font-weight="normal" text-anchor="end" fill="#000" transform="rotate(-43.5 351.74 405.5)" stroke="#000" stroke-width="0.3">chNKG2D+RMA</text>
<text x="388.76" y="405.5" font-family="'Liberation Sans', sans-serif" font-size="10.6" font-weight="normal" text-anchor="end" fill="#000" transform="rotate(-43.5 388.76 405.5)" stroke="#000" stroke-width="0.3">Vector+RMA/Rae-1b</text>
<text x="425.77" y="405.5" font-family="'Liberation Sans', sans-serif" font-size="10.6" font-weight="normal" text-anchor="end" fill="#000" transform="rotate(-43.5 425.77 405.5)" stroke="#000" stroke-width="0.3">chNKG2D+RMA/Rae-1b</text>
<text x="462.78" y="405.5" font-family="'Liberation Sans', sans-serif" font-size="10.6" font-weight="normal" text-anchor="end" fill="#000" transform="rotate(-43.5 462.78 405.5)" stroke="#000" stroke-width="0.3">RMA only</text>
<text x="499.79" y="405.5" font-family="'Liberation Sans', sans-serif" font-size="10.6" font-weight="normal" text-anchor="end" fill="#000" transform="rotate(-43.5 499.79 405.5)" stroke="#000" stroke-width="0.3">RMA/Rae-1 only</text>
<text x="181.6" y="499.2" font-family="'Liberation Sans', sans-serif" font-size="25.5" font-weight="bold" text-anchor="start" fill="#000" stroke="#000" stroke-width="0.7">D</text>
<line x1="222" y1="612.45" x2="518" y2="612.45" stroke="#555" stroke-width="1" />
<line x1="222" y1="572.4" x2="518" y2="572.4" stroke="#555" stroke-width="1" />
<line x1="222" y1="532.35" x2="518" y2="532.35" stroke="#555" stroke-width="1" />
<line x1="222" y1="492.3" x2="518" y2="492.3" stroke="#555" stroke-width="1" />
<line x1="219.4" y1="652.5" x2="222" y2="652.5" stroke="#333" stroke-width="1" />
<text x="215.4" y="655.9" font-family="'Liberation Sans', sans-serif" font-size="9.4" font-weight="normal" text-anchor="end" fill="#000" stroke="#000" stroke-width="0.35">0</text>
<line x1="219.4" y1="612.45" x2="222" y2="612.45" stroke="#333" stroke-width="1" />
<text x="215.4" y="615.85" font-family="'Liberation Sans', sans-serif" font-size="9.4" font-weight="normal" text-anchor="end" fill="#000" stroke="#000" stroke-width="0.35">2</text>
<line x1="219.4" y1="572.4" x2="222" y2="572.4" stroke="#333" stroke-width="1" />
<text x="215.4" y="575.8" font-family="'Liberation Sans', sans-serif" font-size="9.4" font-weight="normal" text-anchor="end" fill="#000" stroke="#000" stroke-width="0.35">4</text>
<line x1="219.4" y1="532.35" x2="222" y2="532.35" stroke="#333" stroke-width="1" />
<text x="215.4" y="535.75" font-family="'Liberation Sans', sans-serif" font-size="9.4" font-weight="normal" text-anchor="end" fill="#000" stroke="#000" stroke-width="0.35">6</text>
<line x1="219.4" y1="492.3" x2="222" y2="492.3" stroke="#333" stroke-width="1" />
<text x="215.4" y="495.7" font-family="'Liberation Sans', sans-serif" font-size="9.4" font-weight="normal" text-anchor="end" fill="#000" stroke="#000" stroke-width="0.35">8</text>
<line x1="518" y1="492.3" x2="518" y2="652.5" stroke="#555" stroke-width="1" />
<text x="197.5" y="571.6" font-family="'Liberation Serif', serif" font-size="18" font-weight="bold" text-anchor="middle" fill="#000" textLength="52" lengthAdjust="spacingAndGlyphs" transform="rotate(-90 197.5 571.6)" >ng/mL</text>
<rect x="234.69" y="652.1" width="16.91" height="0.4" fill="#000" stroke="#000" stroke-width="0.9" />
<rect x="251.6" y="652.1" width="16.91" height="0.4" fill="#fff" stroke="#000" stroke-width="0.9" />
<line x1="302.34" y1="642.49" x2="302.34" y2="644.29" stroke="#333" stroke-width="1" />
<line x1="300.14" y1="642.49" x2="304.54" y2="642.49" stroke="#333" stroke-width="1" />
<rect x="293.89" y="644.29" width="16.91" height="8.21" fill="#000" stroke="#000" stroke-width="0.9" />
<rect x="310.8" y="644.29" width="16.91" height="8.21" fill="#fff" stroke="#000" stroke-width="0.9" />
<rect x="353.09" y="652.1" width="16.91" height="0.4" fill="#000" stroke="#000" stroke-width="0.9" />
<rect x="370" y="652.1" width="16.91" height="0.4" fill="#fff" stroke="#000" stroke-width="0.9" />
<line x1="420.74" y1="507.32" x2="420.74" y2="532.75" stroke="#333" stroke-width="1" />
<line x1="418.54" y1="507.32" x2="422.94" y2="507.32" stroke="#333" stroke-width="1" />
<rect x="412.29" y="532.75" width="16.91" height="119.75" fill="#000" stroke="#000" stroke-width="0.9" />
<line x1="437.66" y1="616.66" x2="437.66" y2="618.06" stroke="#333" stroke-width="1" />
<line x1="435.46" y1="616.66" x2="439.86" y2="616.66" stroke="#333" stroke-width="1" />
<rect x="429.2" y="618.06" width="16.91" height="34.44" fill="#fff" stroke="#000" stroke-width="0.9" />
<rect x="471.49" y="651.9" width="16.91" height="0.6" fill="#000" stroke="#000" stroke-width="0.9" />
<rect x="488.4" y="651.9" width="16.91" height="0.6" fill="#fff" stroke="#000" stroke-width="0.9" />
<line x1="222" y1="492.3" x2="222" y2="653" stroke="#222" stroke-width="1.1" />
<line x1="222" y1="652.5" x2="518" y2="652.5" stroke="#222" stroke-width="1.2" />
<line x1="222" y1="652.5" x2="222" y2="655" stroke="#333" stroke-width="0.9" />
<line x1="281.2" y1="652.5" x2="281.2" y2="655" stroke="#333" stroke-width="0.9" />
<line x1="340.4" y1="652.5" x2="340.4" y2="655" stroke="#333" stroke-width="0.9" />
<line x1="399.6" y1="652.5" x2="399.6" y2="655" stroke="#333" stroke-width="0.9" />
<line x1="458.8" y1="652.5" x2="458.8" y2="655" stroke="#333" stroke-width="0.9" />
<line x1="518" y1="652.5" x2="518" y2="655" stroke="#333" stroke-width="0.9" />
<text x="251.1" y="662.5" font-family="'Liberation Sans', sans-serif" font-size="10.4" font-weight="normal" text-anchor="end" fill="#000" transform="rotate(-44.5 251.1 662.5)" stroke="#000" stroke-width="0.3">Vector+media</text>
<text x="310.3" y="662.5" font-family="'Liberation Sans', sans-serif" font-size="10.4" font-weight="normal" text-anchor="end" fill="#000" transform="rotate(-44.5 310.3 662.5)" stroke="#000" stroke-width="0.3">chNKG2D+media</text>
<text x="369.5" y="662.5" font-family="'Liberation Sans', sans-serif" font-size="10.4" font-weight="normal" text-anchor="end" fill="#000" transform="rotate(-44.5 369.5 662.5)" stroke="#000" stroke-width="0.3">Vector+RMA/Rae-1b</text>
<text x="428.7" y="662.5" font-family="'Liberation Sans', sans-serif" font-size="10.4" font-weight="normal" text-anchor="end" fill="#000" transform="rotate(-44.5 428.7 662.5)" stroke="#000" stroke-width="0.3">chNKG2D+RMA/Rae-1b</text>
<text x="487.9" y="662.5" font-family="'Liberation Sans', sans-serif" font-size="10.4" font-weight="normal" text-anchor="end" fill="#000" transform="rotate(-44.5 487.9 662.5)" stroke="#000" stroke-width="0.3">RMA/Rae-1 only</text>
</svg>
</body></html>
